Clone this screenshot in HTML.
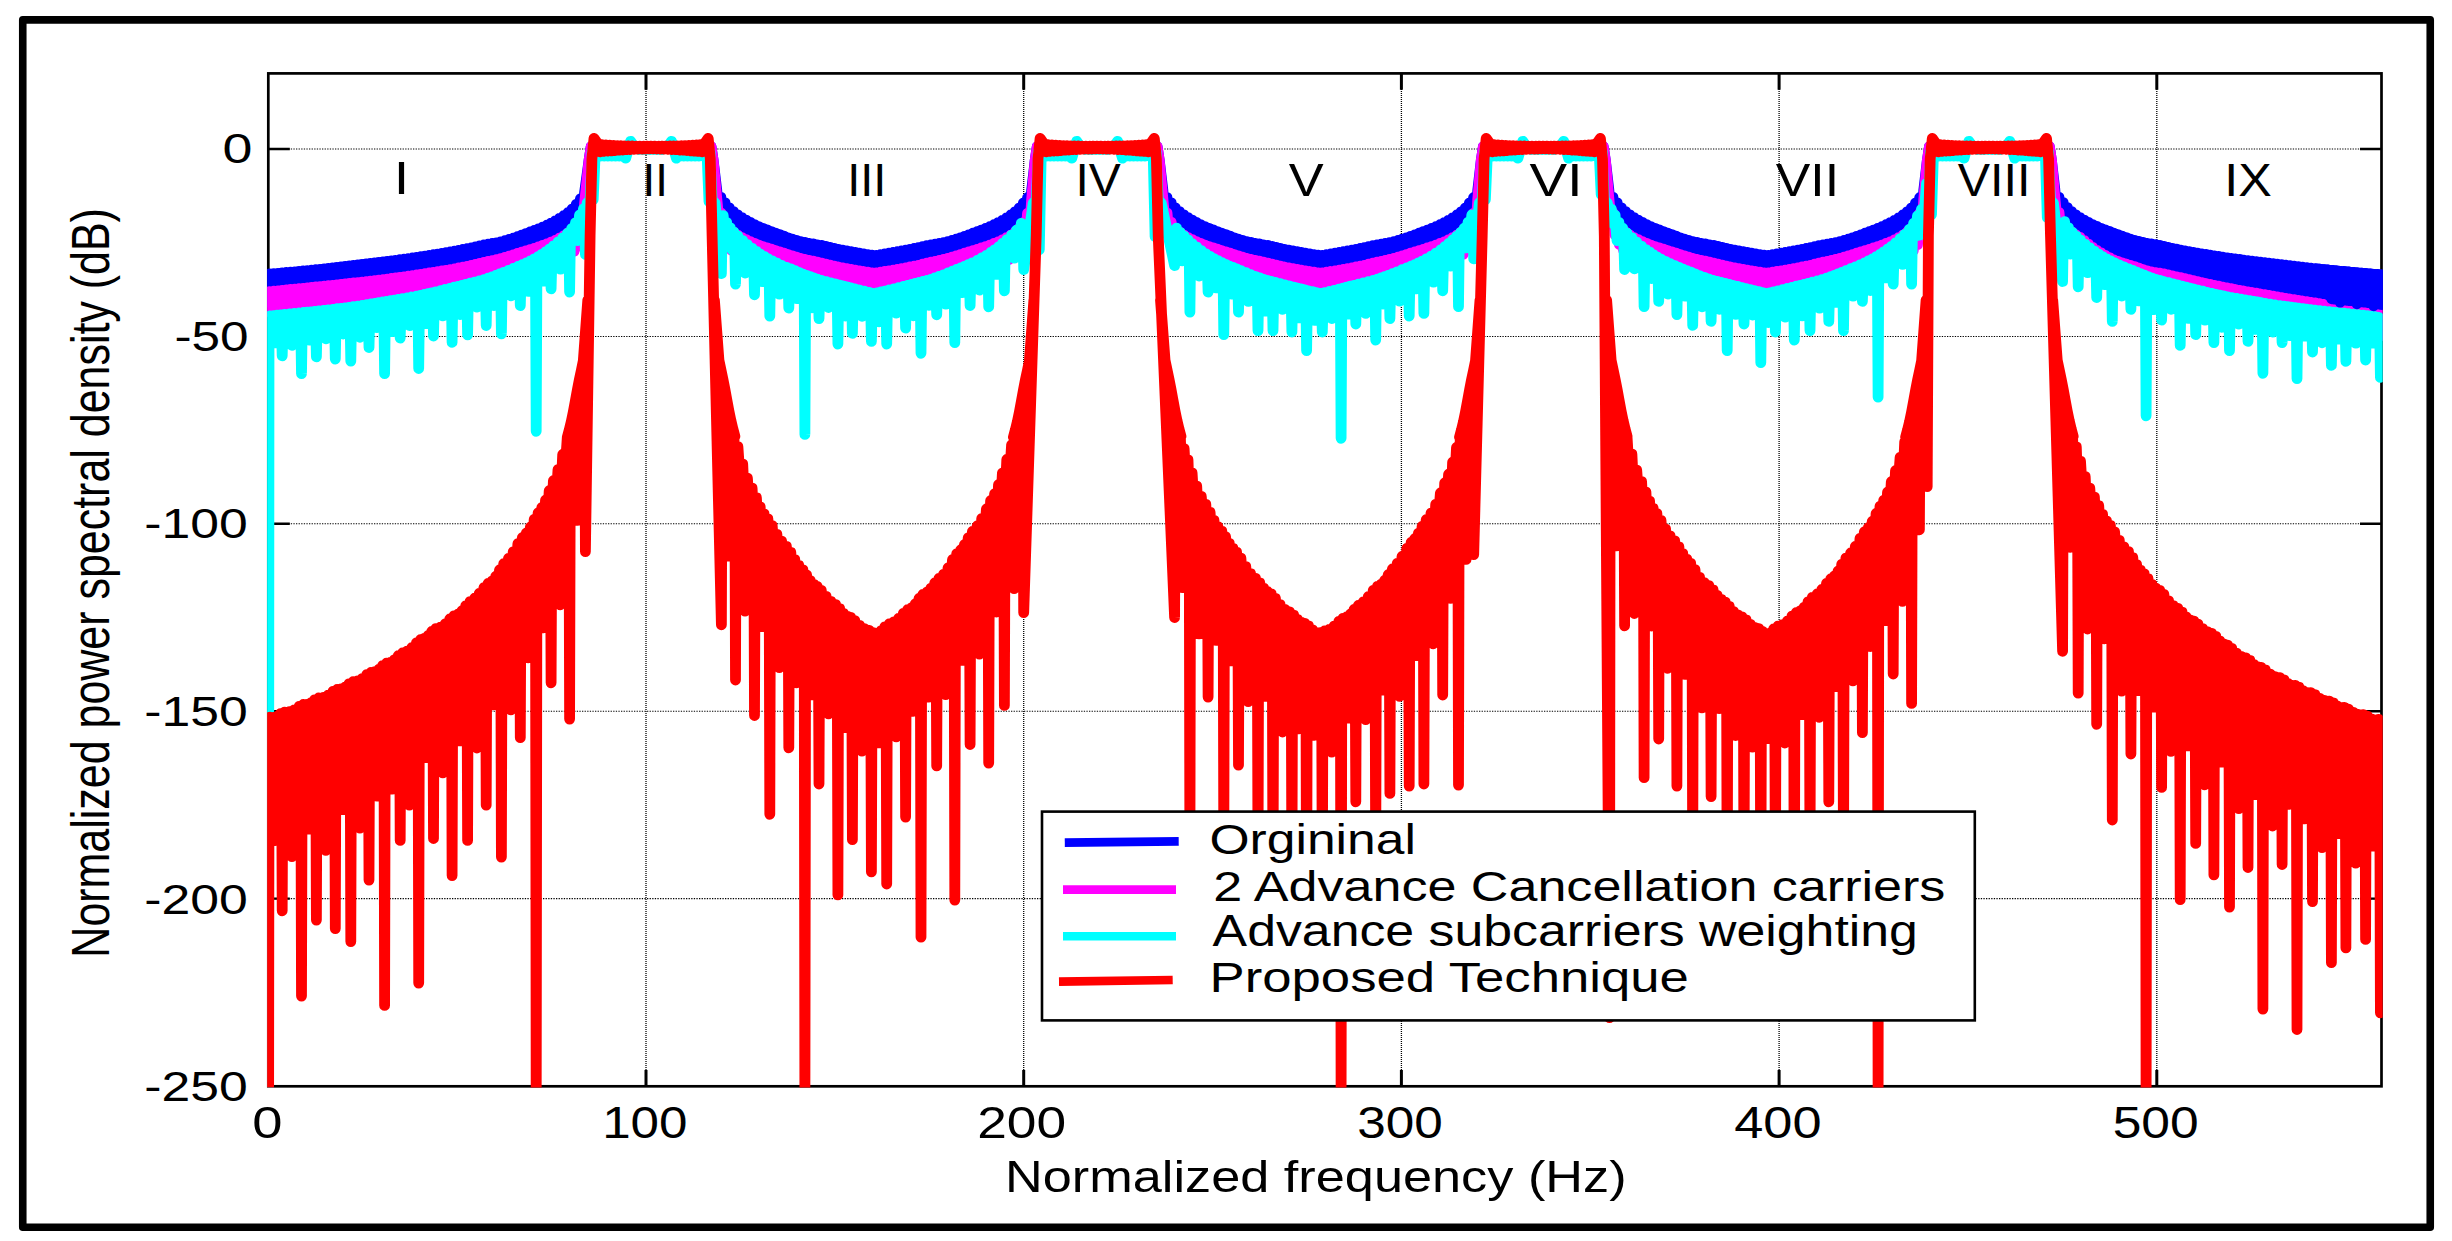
<!DOCTYPE html><html><head><meta charset="utf-8"><title>PSD</title><style>html,body{margin:0;padding:0;background:#fff;overflow:hidden}</style></head><body><svg width="2452" height="1241" viewBox="0 0 2452 1241" style="display:block">
<rect width="2452" height="1241" fill="#fff"/>
<defs><clipPath id="ax"><rect x="267.1" y="72.2" width="2115.6" height="1015.3"/></clipPath></defs>
<rect x="22.75" y="19.9" width="2407.5" height="1207.3" fill="none" stroke="#000" stroke-width="7.6" stroke-linejoin="round"/>
<rect x="268.3" y="73.4" width="2113.2" height="1012.9" fill="none" stroke="#000" stroke-width="2.7"/>
<path d="M646.0 75V1086.3M1023.7 75V1086.3M1401.4 75V1086.3M1779.1 75V1086.3M2156.8 75V1086.3" stroke="#000" stroke-width="1.3" stroke-dasharray="1 1" fill="none"/>
<path d="M270 149.0H2381.5M270 336.4H2381.5M270 523.8H2381.5M270 711.2H2381.5M270 898.6H2381.5" stroke="#000" stroke-width="1.05" stroke-dasharray="1.3 1.3" fill="none"/>
<path d="M646.0 1086.3v-16.4M646.0 73.4v16.4M1023.7 1086.3v-16.4M1023.7 73.4v16.4M1401.4 1086.3v-16.4M1401.4 73.4v16.4M1779.1 1086.3v-16.4M1779.1 73.4v16.4M2156.8 1086.3v-16.4M2156.8 73.4v16.4" stroke="#000" stroke-width="3" fill="none"/>
<path d="M268.3 149.0h21.5M2381.5 149.0h-21.5M268.3 336.4h21.5M2381.5 336.4h-21.5M268.3 523.8h21.5M2381.5 523.8h-21.5M268.3 711.2h21.5M2381.5 711.2h-21.5M268.3 898.6h21.5M2381.5 898.6h-21.5" stroke="#000" stroke-width="2.4" fill="none"/>
<g clip-path="url(#ax)" fill="none" stroke-linejoin="round" stroke-linecap="round" stroke-width="10.8">
<path d="M269.6 274.0L271.7 304.0L273.8 273.7L275.9 303.7L278.0 273.3L280.1 303.3L282.2 272.9L284.3 302.9L286.4 272.5L288.5 302.5L290.6 272.2L292.7 302.2L294.8 271.8L296.9 301.8L299.0 271.4L301.1 301.4L303.2 271.0L305.3 301.0L307.4 270.6L309.5 300.6L311.6 270.2L313.7 300.2L315.8 269.7L317.9 299.7L320.0 269.3L322.1 299.3L324.2 268.8L326.3 298.8L328.4 268.3L330.5 298.3L332.6 267.8L334.7 297.8L336.8 267.3L338.9 297.3L341.0 266.8L343.1 296.8L345.2 266.3L347.3 296.3L349.4 265.8L351.5 295.8L353.6 265.3L355.7 295.3L357.8 264.8L359.9 294.8L362.0 264.3L364.1 294.3L366.2 263.8L368.3 293.8L370.4 263.4L372.5 293.4L374.6 262.9L376.7 292.9L378.8 262.4L380.9 292.4L383.0 261.9L385.1 291.9L387.2 261.4L389.3 291.4L391.4 260.8L393.5 290.8L395.6 260.3L397.7 290.3L399.8 259.7L401.9 289.7L404.0 259.1L406.1 289.1L408.2 258.6L410.3 288.6L412.4 258.0L414.5 288.0L416.6 257.3L418.7 287.3L420.8 256.7L422.9 286.7L425.0 256.1L427.1 286.1L429.2 255.4L431.3 285.4L433.4 254.7L435.5 284.7L437.6 254.1L439.7 284.1L441.8 253.4L443.9 283.4L446.0 252.6L448.1 282.6L450.2 251.9L452.3 281.9L454.4 251.1L456.5 281.1L458.6 250.3L460.7 280.3L462.8 249.5L464.9 279.5L467.0 248.7L469.1 278.7L471.2 247.8L473.3 277.8L475.4 246.8L477.5 276.8L479.6 245.8L481.7 275.8L483.8 245.0L485.9 275.0L488.0 244.2L490.1 274.2L492.2 243.5L494.3 273.5L496.4 242.8L498.5 272.8L500.6 241.9L502.7 271.9L504.8 240.7L506.9 270.7L509.0 239.5L511.1 269.5L513.2 238.2L515.3 268.2L517.4 236.7L519.5 266.7L521.6 235.1L523.7 265.1L525.8 233.6L527.9 263.6L530.0 232.0L532.1 262.0L534.2 230.5L536.3 260.5L538.4 228.9L540.5 258.9L542.6 227.1L544.7 257.1L546.8 225.2L548.9 255.2L551.0 223.1L553.1 253.1L555.2 220.9L557.3 250.9L559.4 218.4L561.5 248.4L563.6 215.7L565.7 245.7L567.8 212.7L569.9 242.7L572.0 209.1L574.1 239.1L576.2 204.4L578.3 234.4L580.4 198.9L582.5 228.9L584.6 192.5L589.1 160.0L591.1 147.0L711.1 147.0L713.1 160.0L716.7 189.6L718.8 219.6L720.9 197.5L723.0 227.5L725.1 202.9L727.2 232.9L729.3 207.9L731.4 237.9L733.5 211.7L735.6 241.7L737.7 214.9L739.8 244.9L741.9 217.7L744.0 247.7L746.1 220.2L748.2 250.2L750.3 222.5L752.4 252.5L754.5 224.6L756.6 254.6L758.7 226.6L760.8 256.6L762.9 228.4L765.0 258.4L767.1 230.0L769.2 260.0L771.3 231.6L773.4 261.6L775.5 233.1L777.6 263.1L779.7 234.7L781.8 264.7L783.9 236.2L786.0 266.2L788.1 237.8L790.2 267.8L792.3 239.2L794.4 269.2L796.5 240.4L798.6 270.4L800.7 241.6L802.8 271.6L804.9 242.5L807.0 272.5L809.1 243.3L811.2 273.3L813.3 244.0L815.4 274.0L817.5 244.8L819.6 274.8L821.7 245.5L823.8 275.5L825.9 246.5L828.0 276.5L830.1 247.5L832.2 277.5L834.3 248.4L836.4 278.4L838.5 249.3L840.6 279.3L842.7 250.1L844.8 280.1L846.9 250.9L849.0 280.9L851.1 251.7L853.2 281.7L855.3 252.4L857.4 282.4L859.5 253.1L861.6 283.1L863.7 253.9L865.8 283.9L867.9 254.6L870.0 284.6L872.1 255.2L874.2 285.2L876.3 255.3L878.4 285.3L880.5 254.6L882.6 284.6L884.7 253.9L886.8 283.9L888.9 253.2L891.0 283.2L893.1 252.5L895.2 282.5L897.3 251.7L899.4 281.7L901.5 250.9L903.6 280.9L905.7 250.1L907.8 280.1L909.9 249.3L912.0 279.3L914.1 248.5L916.2 278.5L918.3 247.6L920.4 277.6L922.5 246.6L924.6 276.6L926.7 245.6L928.8 275.6L930.9 244.8L933.0 274.8L935.1 244.1L937.2 274.1L939.3 243.4L941.4 273.4L943.5 242.6L945.6 272.6L947.7 241.6L949.8 271.6L951.9 240.5L954.0 270.5L956.1 239.2L958.2 269.2L960.3 237.8L962.4 267.8L964.5 236.3L966.6 266.3L968.7 234.8L970.8 264.8L972.9 233.2L975.0 263.2L977.1 231.7L979.2 261.7L981.3 230.1L983.4 260.1L985.5 228.5L987.6 258.5L989.7 226.7L991.8 256.7L993.9 224.7L996.0 254.7L998.1 222.6L1000.2 252.6L1002.3 220.3L1004.4 250.3L1006.5 217.8L1008.6 247.8L1010.7 215.0L1012.8 245.0L1014.9 211.9L1017.0 241.9L1019.1 208.1L1021.2 238.1L1023.3 203.1L1025.4 233.1L1027.5 197.7L1029.5 227.7L1031.7 190.1L1035.2 160.0L1037.2 147.0L1157.2 147.0L1159.2 160.0L1162.8 189.6L1164.8 219.6L1167.0 197.5L1169.0 227.5L1171.2 202.9L1173.2 232.9L1175.3 207.9L1177.4 237.9L1179.5 211.7L1181.6 241.7L1183.8 214.9L1185.8 244.9L1188.0 217.7L1190.0 247.7L1192.2 220.2L1194.2 250.2L1196.3 222.5L1198.4 252.5L1200.5 224.6L1202.6 254.6L1204.8 226.6L1206.8 256.6L1209.0 228.4L1211.0 258.4L1213.2 230.0L1215.2 260.0L1217.3 231.6L1219.4 261.6L1221.5 233.1L1223.6 263.1L1225.8 234.7L1227.8 264.7L1230.0 236.2L1232.0 266.2L1234.2 237.8L1236.2 267.8L1238.3 239.2L1240.4 269.2L1242.5 240.4L1244.6 270.4L1246.8 241.6L1248.8 271.6L1251.0 242.5L1253.0 272.5L1255.2 243.3L1257.2 273.3L1259.3 244.0L1261.4 274.0L1263.5 244.8L1265.6 274.8L1267.8 245.5L1269.8 275.5L1272.0 246.5L1274.0 276.5L1276.2 247.5L1278.2 277.5L1280.3 248.4L1282.4 278.4L1284.5 249.3L1286.6 279.3L1288.8 250.1L1290.8 280.1L1293.0 250.9L1295.0 280.9L1297.2 251.7L1299.2 281.7L1301.3 252.4L1303.4 282.4L1305.5 253.1L1307.6 283.1L1309.8 253.9L1311.8 283.9L1314.0 254.6L1316.0 284.6L1318.2 255.2L1320.2 285.2L1322.3 255.3L1324.4 285.3L1326.5 254.6L1328.6 284.6L1330.8 253.9L1332.8 283.9L1335.0 253.2L1337.0 283.2L1339.2 252.5L1341.2 282.5L1343.3 251.7L1345.4 281.7L1347.5 250.9L1349.6 280.9L1351.8 250.1L1353.8 280.1L1356.0 249.3L1358.0 279.3L1360.2 248.5L1362.2 278.5L1364.3 247.6L1366.4 277.6L1368.5 246.6L1370.6 276.6L1372.8 245.6L1374.8 275.6L1377.0 244.8L1379.0 274.8L1381.2 244.1L1383.2 274.1L1385.3 243.4L1387.4 273.4L1389.5 242.6L1391.6 272.6L1393.8 241.6L1395.8 271.6L1398.0 240.5L1400.0 270.5L1402.2 239.2L1404.2 269.2L1406.3 237.8L1408.4 267.8L1410.5 236.3L1412.6 266.3L1414.8 234.8L1416.8 264.8L1419.0 233.2L1421.0 263.2L1423.2 231.7L1425.2 261.7L1427.3 230.1L1429.4 260.1L1431.5 228.5L1433.6 258.5L1435.8 226.7L1437.8 256.7L1440.0 224.7L1442.0 254.7L1444.2 222.6L1446.2 252.6L1448.3 220.3L1450.4 250.3L1452.5 217.8L1454.6 247.8L1456.8 215.0L1458.8 245.0L1461.0 211.9L1463.0 241.9L1465.2 208.1L1467.2 238.1L1469.3 203.1L1471.4 233.1L1473.5 197.7L1475.6 227.7L1477.8 190.1L1481.3 160.0L1483.3 147.0L1603.3 147.0L1605.3 160.0L1608.8 189.6L1610.9 219.6L1613.0 197.5L1615.1 227.5L1617.2 202.9L1619.3 232.9L1621.4 207.9L1623.5 237.9L1625.6 211.7L1627.7 241.7L1629.8 214.9L1631.9 244.9L1634.0 217.7L1636.1 247.7L1638.2 220.2L1640.3 250.2L1642.4 222.5L1644.5 252.5L1646.6 224.6L1648.7 254.6L1650.8 226.6L1652.9 256.6L1655.0 228.4L1657.1 258.4L1659.2 230.0L1661.3 260.0L1663.4 231.6L1665.5 261.6L1667.6 233.1L1669.7 263.1L1671.8 234.7L1673.9 264.7L1676.0 236.2L1678.1 266.2L1680.2 237.8L1682.3 267.8L1684.4 239.2L1686.5 269.2L1688.6 240.4L1690.7 270.4L1692.8 241.6L1694.9 271.6L1697.0 242.5L1699.1 272.5L1701.2 243.3L1703.3 273.3L1705.4 244.0L1707.5 274.0L1709.6 244.8L1711.7 274.8L1713.8 245.5L1715.9 275.5L1718.0 246.5L1720.1 276.5L1722.2 247.5L1724.3 277.5L1726.4 248.4L1728.5 278.4L1730.6 249.3L1732.7 279.3L1734.8 250.1L1736.9 280.1L1739.0 250.9L1741.1 280.9L1743.2 251.7L1745.3 281.7L1747.4 252.4L1749.5 282.4L1751.6 253.1L1753.7 283.1L1755.8 253.9L1757.9 283.9L1760.0 254.6L1762.1 284.6L1764.2 255.2L1766.3 285.2L1768.4 255.3L1770.5 285.3L1772.6 254.6L1774.7 284.6L1776.8 253.9L1778.9 283.9L1781.0 253.2L1783.1 283.2L1785.2 252.5L1787.3 282.5L1789.4 251.7L1791.5 281.7L1793.6 250.9L1795.7 280.9L1797.8 250.1L1799.9 280.1L1802.0 249.3L1804.1 279.3L1806.2 248.5L1808.3 278.5L1810.4 247.6L1812.5 277.6L1814.6 246.6L1816.7 276.6L1818.8 245.6L1820.9 275.6L1823.0 244.8L1825.1 274.8L1827.2 244.1L1829.3 274.1L1831.4 243.4L1833.5 273.4L1835.6 242.6L1837.7 272.6L1839.8 241.6L1841.9 271.6L1844.0 240.5L1846.1 270.5L1848.2 239.2L1850.3 269.2L1852.4 237.8L1854.5 267.8L1856.6 236.3L1858.7 266.3L1860.8 234.8L1862.9 264.8L1865.0 233.2L1867.1 263.2L1869.2 231.7L1871.3 261.7L1873.4 230.1L1875.5 260.1L1877.6 228.5L1879.7 258.5L1881.8 226.7L1883.9 256.7L1886.0 224.7L1888.1 254.7L1890.2 222.6L1892.3 252.6L1894.4 220.3L1896.5 250.3L1898.6 217.8L1900.7 247.8L1902.8 215.0L1904.9 245.0L1907.0 211.9L1909.1 241.9L1911.2 208.1L1913.3 238.1L1915.4 203.1L1917.5 233.1L1919.6 197.7L1921.7 227.7L1923.8 190.1L1927.4 160.0L1929.4 147.0L2049.4 147.0L2051.4 160.0L2054.8 189.2L2056.9 219.2L2059.0 197.3L2061.1 227.3L2063.2 202.7L2065.3 232.7L2067.4 207.7L2069.5 237.7L2071.6 211.6L2073.7 241.6L2075.8 214.8L2077.9 244.8L2080.0 217.6L2082.1 247.6L2084.2 220.1L2086.3 250.1L2088.4 222.4L2090.5 252.4L2092.6 224.6L2094.7 254.6L2096.8 226.5L2098.9 256.5L2101.0 228.3L2103.1 258.3L2105.2 230.0L2107.3 260.0L2109.4 231.5L2111.5 261.5L2113.6 233.1L2115.7 263.1L2117.8 234.6L2119.9 264.6L2122.0 236.2L2124.1 266.2L2126.2 237.7L2128.3 267.7L2130.4 239.1L2132.5 269.1L2134.6 240.4L2136.7 270.4L2138.8 241.5L2140.9 271.5L2143.0 242.5L2145.1 272.5L2147.2 243.3L2149.3 273.3L2151.4 244.0L2153.5 274.0L2155.6 244.7L2157.7 274.7L2159.8 245.5L2161.9 275.5L2164.0 246.5L2166.1 276.5L2168.2 247.5L2170.3 277.5L2172.4 248.4L2174.5 278.4L2176.6 249.2L2178.7 279.2L2180.8 250.1L2182.9 280.1L2185.0 250.9L2187.1 280.9L2189.2 251.6L2191.3 281.6L2193.4 252.4L2195.5 282.4L2197.6 253.1L2199.7 283.1L2201.8 253.8L2203.9 283.8L2206.0 254.5L2208.1 284.5L2210.2 255.2L2212.3 285.2L2214.4 255.9L2216.5 285.9L2218.6 256.5L2220.7 286.5L2222.8 257.1L2224.9 287.1L2227.0 257.8L2229.1 287.8L2231.2 258.4L2233.3 288.4L2235.4 258.9L2237.5 288.9L2239.6 259.5L2241.7 289.5L2243.8 260.1L2245.9 290.1L2248.0 260.6L2250.1 290.6L2252.2 261.2L2254.3 291.2L2256.4 261.7L2258.5 291.7L2260.6 262.2L2262.7 292.2L2264.8 262.7L2266.9 292.7L2269.0 263.2L2271.1 293.2L2273.2 263.7L2275.3 293.7L2277.4 264.1L2279.5 294.1L2281.6 264.6L2283.7 294.6L2285.8 265.1L2287.9 295.1L2290.0 265.6L2292.1 295.6L2294.2 266.1L2296.3 296.1L2298.4 266.7L2300.5 296.7L2302.6 267.2L2304.7 297.2L2306.8 267.7L2308.9 297.7L2311.0 268.2L2313.1 298.2L2315.2 268.7L2317.3 298.7L2319.4 269.2L2321.5 299.2L2323.6 269.6L2325.7 299.6L2327.8 270.0L2329.9 300.0L2332.0 270.5L2334.1 300.5L2336.2 270.9L2338.3 300.9L2340.4 271.3L2342.5 301.3L2344.6 271.7L2346.7 301.7L2348.8 272.0L2350.9 302.0L2353.0 272.4L2355.1 302.4L2357.2 272.8L2359.3 302.8L2361.4 273.2L2363.5 303.2L2365.6 273.5L2367.7 303.5L2369.8 273.9L2371.9 303.9L2374.0 274.3L2376.1 304.3L2378.2 274.6L2380.3 304.6L2382.4 275.0" stroke="#0000ff"/>
<path d="M269.6 291.6L271.7 313.6L273.8 291.2L275.9 313.2L278.0 290.8L280.1 312.8L282.2 290.3L284.3 312.3L286.4 289.9L288.5 311.9L290.6 289.5L292.7 311.5L294.8 289.1L296.9 311.1L299.0 288.7L301.1 310.7L303.2 288.3L305.3 310.3L307.4 287.8L309.5 309.8L311.6 287.4L313.7 309.4L315.8 287.0L317.9 309.0L320.0 286.6L322.1 308.6L324.2 286.2L326.3 308.2L328.4 285.7L330.5 307.7L332.6 285.3L334.7 307.3L336.8 284.8L338.9 306.8L341.0 284.4L343.1 306.4L345.2 284.0L347.3 306.0L349.4 283.5L351.5 305.5L353.6 283.0L355.7 305.0L357.8 282.6L359.9 304.6L362.0 282.1L364.1 304.1L366.2 281.6L368.3 303.6L370.4 281.1L372.5 303.1L374.6 280.6L376.7 302.6L378.8 280.1L380.9 302.1L383.0 279.6L385.1 301.6L387.2 279.1L389.3 301.1L391.4 278.5L393.5 300.5L395.6 277.9L397.7 299.9L399.8 277.4L401.9 299.4L404.0 276.8L406.1 298.8L408.2 276.2L410.3 298.2L412.4 275.6L414.5 297.6L416.6 275.0L418.7 297.0L420.8 274.3L422.9 296.3L425.0 273.7L427.1 295.7L429.2 273.0L431.3 295.0L433.4 272.3L435.5 294.3L437.6 271.7L439.7 293.7L441.8 271.0L443.9 293.0L446.0 270.3L448.1 292.3L450.2 269.6L452.3 291.6L454.4 268.8L456.5 290.8L458.6 268.0L460.7 290.0L462.8 267.2L464.9 289.2L467.0 266.4L469.1 288.4L471.2 265.5L473.3 287.5L475.4 264.5L477.5 286.5L479.6 263.4L481.7 285.4L483.8 262.4L485.9 284.4L488.0 261.5L490.1 283.5L492.2 260.6L494.3 282.6L496.4 259.6L498.5 281.6L500.6 258.6L502.7 280.6L504.8 257.4L506.9 279.4L509.0 256.2L511.1 278.2L513.2 254.9L515.3 276.9L517.4 253.5L519.5 275.5L521.6 252.2L523.7 274.2L525.8 250.9L527.9 272.9L530.0 249.6L532.1 271.6L534.2 248.3L536.3 270.3L538.4 247.0L540.5 269.0L542.6 245.5L544.7 267.5L546.8 243.9L548.9 265.9L551.0 242.2L553.1 264.2L555.2 240.3L557.3 262.3L559.4 238.2L561.5 260.2L563.6 235.8L565.7 257.8L567.8 232.9L569.9 254.9L572.0 229.3L574.1 251.3L576.2 224.3L578.3 246.3L580.4 216.0L582.5 238.0L584.6 203.3L589.1 160.0L591.1 147.0L711.1 147.0L713.1 160.0L716.7 198.0L718.8 220.0L720.9 212.9L723.0 234.9L725.1 222.3L727.2 244.3L729.3 228.1L731.4 250.1L733.5 232.0L735.6 254.0L737.7 235.0L739.8 257.0L741.9 237.5L744.0 259.5L746.1 239.7L748.2 261.7L750.3 241.7L752.4 263.7L754.5 243.4L756.6 265.4L758.7 245.0L760.8 267.0L762.9 246.6L765.0 268.6L767.1 247.9L769.2 269.9L771.3 249.2L773.4 271.2L775.5 250.5L777.6 272.5L779.7 251.8L781.8 273.8L783.9 253.2L786.0 275.2L788.1 254.5L790.2 276.5L792.3 255.8L794.4 277.8L796.5 257.1L798.6 279.1L800.7 258.3L802.8 280.3L804.9 259.4L807.0 281.4L809.1 260.3L811.2 282.3L813.3 261.2L815.4 283.2L817.5 262.1L819.6 284.1L821.7 263.1L823.8 285.1L825.9 264.2L828.0 286.2L830.1 265.2L832.2 287.2L834.3 266.1L836.4 288.1L838.5 267.0L840.6 289.0L842.7 267.8L844.8 289.8L846.9 268.6L849.0 290.6L851.1 269.3L853.2 291.3L855.3 270.1L857.4 292.1L859.5 270.8L861.6 292.8L863.7 271.5L865.8 293.5L867.9 272.2L870.0 294.2L872.1 272.8L874.2 294.8L876.3 272.9L878.4 294.9L880.5 272.2L882.6 294.2L884.7 271.5L886.8 293.5L888.9 270.8L891.0 292.8L893.1 270.1L895.2 292.1L897.3 269.4L899.4 291.4L901.5 268.6L903.6 290.6L905.7 267.8L907.8 289.8L909.9 267.0L912.0 289.0L914.1 266.2L916.2 288.2L918.3 265.3L920.4 287.3L922.5 264.2L924.6 286.2L926.7 263.1L928.8 285.1L930.9 262.2L933.0 284.2L935.1 261.3L937.2 283.3L939.3 260.4L941.4 282.4L943.5 259.4L945.6 281.4L947.7 258.3L949.8 280.3L951.9 257.1L954.0 279.1L956.1 255.9L958.2 277.9L960.3 254.6L962.4 276.6L964.5 253.2L966.6 275.2L968.7 251.9L970.8 273.9L972.9 250.6L975.0 272.6L977.1 249.3L979.2 271.3L981.3 248.0L983.4 270.0L985.5 246.6L987.6 268.6L989.7 245.1L991.8 267.1L993.9 243.5L996.0 265.5L998.1 241.8L1000.2 263.8L1002.3 239.8L1004.4 261.8L1006.5 237.6L1008.6 259.6L1010.7 235.1L1012.8 257.1L1014.9 232.2L1017.0 254.2L1019.1 228.3L1021.2 250.3L1023.3 222.6L1025.4 244.6L1027.5 213.4L1029.5 235.4L1031.7 198.9L1035.2 160.0L1037.2 147.0L1157.2 147.0L1159.2 160.0L1162.8 198.0L1164.8 220.0L1167.0 212.9L1169.0 234.9L1171.2 222.3L1173.2 244.3L1175.3 228.1L1177.4 250.1L1179.5 232.0L1181.6 254.0L1183.8 235.0L1185.8 257.0L1188.0 237.5L1190.0 259.5L1192.2 239.7L1194.2 261.7L1196.3 241.7L1198.4 263.7L1200.5 243.4L1202.6 265.4L1204.8 245.0L1206.8 267.0L1209.0 246.6L1211.0 268.6L1213.2 247.9L1215.2 269.9L1217.3 249.2L1219.4 271.2L1221.5 250.5L1223.6 272.5L1225.8 251.8L1227.8 273.8L1230.0 253.2L1232.0 275.2L1234.2 254.5L1236.2 276.5L1238.3 255.8L1240.4 277.8L1242.5 257.1L1244.6 279.1L1246.8 258.3L1248.8 280.3L1251.0 259.4L1253.0 281.4L1255.2 260.3L1257.2 282.3L1259.3 261.2L1261.4 283.2L1263.5 262.1L1265.6 284.1L1267.8 263.1L1269.8 285.1L1272.0 264.2L1274.0 286.2L1276.2 265.2L1278.2 287.2L1280.3 266.1L1282.4 288.1L1284.5 267.0L1286.6 289.0L1288.8 267.8L1290.8 289.8L1293.0 268.6L1295.0 290.6L1297.2 269.3L1299.2 291.3L1301.3 270.1L1303.4 292.1L1305.5 270.8L1307.6 292.8L1309.8 271.5L1311.8 293.5L1314.0 272.2L1316.0 294.2L1318.2 272.8L1320.2 294.8L1322.3 272.9L1324.4 294.9L1326.5 272.2L1328.6 294.2L1330.8 271.5L1332.8 293.5L1335.0 270.8L1337.0 292.8L1339.2 270.1L1341.2 292.1L1343.3 269.4L1345.4 291.4L1347.5 268.6L1349.6 290.6L1351.8 267.8L1353.8 289.8L1356.0 267.0L1358.0 289.0L1360.2 266.2L1362.2 288.2L1364.3 265.3L1366.4 287.3L1368.5 264.2L1370.6 286.2L1372.8 263.1L1374.8 285.1L1377.0 262.2L1379.0 284.2L1381.2 261.3L1383.2 283.3L1385.3 260.4L1387.4 282.4L1389.5 259.4L1391.6 281.4L1393.8 258.3L1395.8 280.3L1398.0 257.1L1400.0 279.1L1402.2 255.9L1404.2 277.9L1406.3 254.6L1408.4 276.6L1410.5 253.2L1412.6 275.2L1414.8 251.9L1416.8 273.9L1419.0 250.6L1421.0 272.6L1423.2 249.3L1425.2 271.3L1427.3 248.0L1429.4 270.0L1431.5 246.6L1433.6 268.6L1435.8 245.1L1437.8 267.1L1440.0 243.5L1442.0 265.5L1444.2 241.8L1446.2 263.8L1448.3 239.8L1450.4 261.8L1452.5 237.6L1454.6 259.6L1456.8 235.1L1458.8 257.1L1461.0 232.2L1463.0 254.2L1465.2 228.3L1467.2 250.3L1469.3 222.6L1471.4 244.6L1473.5 213.4L1475.6 235.4L1477.8 198.9L1481.3 160.0L1483.3 147.0L1603.3 147.0L1605.3 160.0L1608.8 198.0L1610.9 220.0L1613.0 212.9L1615.1 234.9L1617.2 222.3L1619.3 244.3L1621.4 228.1L1623.5 250.1L1625.6 232.0L1627.7 254.0L1629.8 235.0L1631.9 257.0L1634.0 237.5L1636.1 259.5L1638.2 239.7L1640.3 261.7L1642.4 241.7L1644.5 263.7L1646.6 243.4L1648.7 265.4L1650.8 245.0L1652.9 267.0L1655.0 246.6L1657.1 268.6L1659.2 247.9L1661.3 269.9L1663.4 249.2L1665.5 271.2L1667.6 250.5L1669.7 272.5L1671.8 251.8L1673.9 273.8L1676.0 253.2L1678.1 275.2L1680.2 254.5L1682.3 276.5L1684.4 255.8L1686.5 277.8L1688.6 257.1L1690.7 279.1L1692.8 258.3L1694.9 280.3L1697.0 259.4L1699.1 281.4L1701.2 260.3L1703.3 282.3L1705.4 261.2L1707.5 283.2L1709.6 262.1L1711.7 284.1L1713.8 263.1L1715.9 285.1L1718.0 264.2L1720.1 286.2L1722.2 265.2L1724.3 287.2L1726.4 266.1L1728.5 288.1L1730.6 267.0L1732.7 289.0L1734.8 267.8L1736.9 289.8L1739.0 268.6L1741.1 290.6L1743.2 269.3L1745.3 291.3L1747.4 270.1L1749.5 292.1L1751.6 270.8L1753.7 292.8L1755.8 271.5L1757.9 293.5L1760.0 272.2L1762.1 294.2L1764.2 272.8L1766.3 294.8L1768.4 272.9L1770.5 294.9L1772.6 272.2L1774.7 294.2L1776.8 271.5L1778.9 293.5L1781.0 270.8L1783.1 292.8L1785.2 270.1L1787.3 292.1L1789.4 269.4L1791.5 291.4L1793.6 268.6L1795.7 290.6L1797.8 267.8L1799.9 289.8L1802.0 267.0L1804.1 289.0L1806.2 266.2L1808.3 288.2L1810.4 265.3L1812.5 287.3L1814.6 264.2L1816.7 286.2L1818.8 263.1L1820.9 285.1L1823.0 262.2L1825.1 284.2L1827.2 261.3L1829.3 283.3L1831.4 260.4L1833.5 282.4L1835.6 259.4L1837.7 281.4L1839.8 258.3L1841.9 280.3L1844.0 257.1L1846.1 279.1L1848.2 255.9L1850.3 277.9L1852.4 254.6L1854.5 276.6L1856.6 253.2L1858.7 275.2L1860.8 251.9L1862.9 273.9L1865.0 250.6L1867.1 272.6L1869.2 249.3L1871.3 271.3L1873.4 248.0L1875.5 270.0L1877.6 246.6L1879.7 268.6L1881.8 245.1L1883.9 267.1L1886.0 243.5L1888.1 265.5L1890.2 241.8L1892.3 263.8L1894.4 239.8L1896.5 261.8L1898.6 237.6L1900.7 259.6L1902.8 235.1L1904.9 257.1L1907.0 232.2L1909.1 254.2L1911.2 228.3L1913.3 250.3L1915.4 222.6L1917.5 244.6L1919.6 213.4L1921.7 235.4L1923.8 198.9L1927.4 160.0L1929.4 147.0L2049.4 147.0L2051.4 160.0L2054.8 197.2L2056.9 219.2L2059.0 212.5L2061.1 234.5L2063.2 222.0L2065.3 244.0L2067.4 227.9L2069.5 249.9L2071.6 231.9L2073.7 253.9L2075.8 234.9L2077.9 256.9L2080.0 237.4L2082.1 259.4L2084.2 240.7L2086.3 262.7L2088.4 244.2L2090.5 266.2L2092.6 247.4L2094.7 269.4L2096.8 250.3L2098.9 272.3L2101.0 252.9L2103.1 274.9L2105.2 255.4L2107.3 277.4L2109.4 257.7L2111.5 279.7L2113.6 259.8L2115.7 281.8L2117.8 261.4L2119.9 283.4L2122.0 262.8L2124.1 284.8L2126.2 264.0L2128.3 286.0L2130.4 265.3L2132.5 287.3L2134.6 266.7L2136.7 288.7L2138.8 268.1L2140.9 290.1L2143.0 269.5L2145.1 291.5L2147.2 270.8L2149.3 292.8L2151.4 271.9L2153.5 293.9L2155.6 272.6L2157.7 294.6L2159.8 273.2L2161.9 295.2L2164.0 273.9L2166.1 295.9L2168.2 274.8L2170.3 296.8L2172.4 275.8L2174.5 297.8L2176.6 276.8L2178.7 298.8L2180.8 277.7L2182.9 299.7L2185.0 278.7L2187.1 300.7L2189.2 279.7L2191.3 301.7L2193.4 280.7L2195.5 302.7L2197.6 281.6L2199.7 303.6L2201.8 282.6L2203.9 304.6L2206.0 283.5L2208.1 305.5L2210.2 284.4L2212.3 306.4L2214.4 285.4L2216.5 307.4L2218.6 286.2L2220.7 308.2L2222.8 287.1L2224.9 309.1L2227.0 287.9L2229.1 309.9L2231.2 288.7L2233.3 310.7L2235.4 289.5L2237.5 311.5L2239.6 290.3L2241.7 312.3L2243.8 291.0L2245.9 313.0L2248.0 291.8L2250.1 313.8L2252.2 292.5L2254.3 314.5L2256.4 293.2L2258.5 315.2L2260.6 294.0L2262.7 316.0L2264.8 294.7L2266.9 316.7L2269.0 295.4L2271.1 317.4L2273.2 296.2L2275.3 318.2L2277.4 296.8L2279.5 318.8L2281.6 297.6L2283.7 319.6L2285.8 298.3L2287.9 320.3L2290.0 299.0L2292.1 321.0L2294.2 299.7L2296.3 321.7L2298.4 300.4L2300.5 322.4L2302.6 301.0L2304.7 323.0L2306.8 301.7L2308.9 323.7L2311.0 302.3L2313.1 324.3L2315.2 302.9L2317.3 324.9L2319.4 303.6L2321.5 325.6L2323.6 304.3L2325.7 326.3L2327.8 305.0L2329.9 327.0L2332.0 305.7L2334.1 327.7L2336.2 306.4L2338.3 328.4L2340.4 307.1L2342.5 329.1L2344.6 307.8L2346.7 329.8L2348.8 308.5L2350.9 330.5L2353.0 309.2L2355.1 331.2L2357.2 309.9L2359.3 331.9L2361.4 310.6L2363.5 332.6L2365.6 311.3L2367.7 333.3L2369.8 312.1L2371.9 334.1L2374.0 313.0L2376.1 335.0L2378.2 314.0L2380.3 336.0L2382.4 314.9" stroke="#ff00ff"/>
<path d="M268.3 1400.0L269.0 331.2L270.0 316.0L271.8 335.7L273.5 315.6L274.6 330.5L275.3 342.9L276.0 330.3L277.0 315.2L278.8 328.7L280.5 314.8L281.5 329.7L282.2 355.9L282.9 329.5L284.7 314.4L287.1 327.4L289.5 313.9L291.2 328.7L291.9 345.4L292.6 328.6L294.3 313.4L296.7 330.1L299.1 313.0L300.8 327.8L301.5 373.7L302.2 327.7L303.4 312.5L305.2 324.7L307.1 312.2L308.2 327.1L308.9 340.1L309.6 326.9L310.8 311.8L312.7 323.9L314.5 311.4L315.7 326.3L316.4 356.9L317.1 326.1L318.7 310.9L321.1 326.8L323.5 310.4L325.1 325.2L325.8 338.8L326.5 325.0L328.2 309.8L330.5 325.3L332.9 309.3L334.6 324.1L335.3 359.0L336.0 323.9L337.2 308.7L339.2 327.8L341.1 308.3L342.4 323.1L343.1 334.0L343.8 322.9L345.0 307.8L346.9 324.5L348.9 307.3L350.1 322.1L350.8 361.1L351.5 321.9L353.1 306.7L355.4 322.5L357.7 306.1L359.2 320.9L359.9 337.3L360.6 320.7L362.2 305.4L364.5 321.1L366.7 304.7L368.3 319.5L369.0 347.5L369.7 319.2L371.0 304.0L372.9 317.7L374.8 303.4L376.1 318.2L376.8 327.7L377.5 317.9L378.7 302.7L380.7 314.5L382.6 302.0L383.9 316.8L384.6 373.7L385.3 316.6L386.5 301.4L388.5 314.6L390.4 300.7L391.7 315.5L392.4 331.7L393.1 315.3L394.3 300.1L396.3 317.3L398.2 299.4L399.5 314.2L400.2 338.1L400.9 314.0L402.5 298.7L404.8 311.9L407.1 297.9L408.7 312.6L409.4 325.6L410.1 312.3L411.7 297.0L414.1 311.6L416.4 296.2L418.0 310.8L418.7 368.5L419.4 310.6L420.5 295.3L422.4 307.0L424.3 294.5L425.4 309.3L426.1 323.7L426.8 308.9L428.0 293.7L429.8 311.9L431.7 292.8L432.8 307.5L433.5 336.0L434.2 307.2L435.8 291.8L438.2 304.4L440.5 290.6L442.1 305.2L442.8 315.9L443.5 304.9L445.1 289.5L447.4 303.0L449.7 288.3L451.4 302.9L452.1 342.3L452.8 302.6L454.0 287.2L456.0 305.8L457.9 286.3L459.2 300.9L459.9 314.5L460.6 300.6L461.8 285.3L463.7 300.9L465.7 284.3L466.9 299.0L467.6 334.9L468.3 298.6L470.0 283.2L472.3 301.4L474.6 282.1L476.2 296.7L476.9 307.2L477.6 296.3L479.2 280.9L481.5 297.4L483.9 279.6L485.5 294.1L486.2 325.5L486.9 293.6L488.1 278.2L490.0 295.5L491.9 276.9L493.1 291.4L493.8 305.5L494.5 290.9L495.7 275.5L497.6 287.5L499.5 274.0L500.7 288.5L501.4 333.9L502.1 288.0L503.7 272.3L506.1 287.6L508.5 270.3L510.1 284.6L510.8 295.8L511.5 284.0L513.2 268.4L515.6 283.5L517.9 266.5L519.6 280.8L520.3 305.6L521.0 280.2L522.3 264.7L524.3 282.8L526.3 262.9L527.6 277.2L528.3 291.4L529.0 276.5L530.3 260.9L532.2 274.7L534.2 258.8L535.5 273.0L536.2 431.3L536.9 272.2L538.1 256.6L539.9 272.2L541.8 254.3L542.9 268.6L543.6 281.1L544.3 267.7L545.5 251.9L547.4 263.1L549.2 249.2L550.4 263.4L551.1 288.9L551.8 262.3L553.4 246.0L555.7 259.1L558.0 242.0L559.6 255.6L560.3 269.2L561.0 254.3L562.7 237.9L565.0 250.3L567.3 233.5L568.9 246.8L569.6 292.0L570.3 245.2L571.6 228.7L573.6 239.3L575.5 222.8L576.8 235.4L577.5 240.6L578.2 232.6L579.5 215.1L581.5 230.1L583.4 208.9L584.7 221.8L585.4 254.3L587.1 203.0L590.1 200.0L592.1 160.0L592.1 152.0L593.2 199.6L595.1 155.2L598.5 154.5L600.4 155.9L602.3 154.5L604.2 155.9L606.1 154.5L607.9 155.9L609.8 154.5L611.7 155.9L613.6 154.5L615.5 155.9L617.4 154.5L619.3 155.9L621.2 154.5L623.1 155.9L625.7 158.2L630.6 141.3L635.1 148.0L637.1 147.8L639.0 149.4L640.9 147.8L642.8 149.4L644.7 147.8L646.5 149.4L648.4 147.8L650.3 149.4L652.2 147.8L654.1 149.4L656.0 147.8L657.9 149.4L659.8 147.8L661.7 149.4L663.5 147.8L667.1 148.0L671.5 141.3L676.4 158.2L678.1 154.5L680.0 155.9L681.9 154.5L683.8 155.9L685.7 154.5L687.5 155.9L689.4 154.5L691.3 155.9L693.2 154.5L695.1 155.9L697.0 154.5L698.9 155.9L700.8 154.5L702.7 155.9L707.1 155.2L709.0 201.6L710.1 152.0L710.1 160.0L712.1 200.0L715.1 203.0L721.4 273.5L722.1 228.6L723.2 215.7L725.0 237.9L726.7 222.5L727.8 239.4L728.5 246.2L729.2 241.6L730.3 228.0L732.0 249.7L733.8 232.1L734.8 248.2L735.5 284.2L736.2 249.6L737.9 236.1L740.3 257.6L742.7 240.5L744.3 257.0L745.0 273.0L745.7 258.2L747.4 244.6L749.8 263.1L752.1 248.4L753.8 264.7L754.5 294.8L755.2 265.7L756.4 251.5L758.3 266.0L760.2 254.1L761.4 269.8L762.1 281.7L762.8 270.7L764.1 256.4L766.0 271.1L767.9 258.6L769.1 274.3L769.8 316.1L770.5 275.0L772.2 260.9L774.5 281.5L776.9 263.2L778.6 279.0L779.3 294.2L780.0 279.6L781.6 265.3L784.0 282.7L786.4 267.3L788.1 282.9L788.8 308.1L789.5 283.5L790.8 269.0L792.8 283.3L794.8 270.7L796.1 286.2L796.8 298.7L797.5 286.8L798.8 272.3L800.8 292.2L802.9 274.0L804.2 289.5L804.9 434.4L805.6 290.0L806.6 275.4L808.4 293.2L810.2 276.7L811.2 292.1L811.9 307.8L812.6 292.6L813.7 278.0L815.5 295.1L817.2 279.2L818.3 294.5L819.0 318.7L819.7 294.9L821.3 280.4L823.7 296.1L826.1 281.6L827.8 297.0L828.5 307.5L829.2 297.4L830.8 282.8L833.2 298.7L835.6 284.0L837.2 299.4L837.9 344.0L838.6 299.8L839.7 285.1L841.6 299.4L843.4 286.0L844.5 301.3L845.2 316.0L845.9 301.6L847.0 286.9L848.8 299.7L850.6 287.8L851.7 303.1L852.4 333.4L853.1 303.4L854.8 288.9L857.2 308.5L859.5 290.0L861.2 305.5L861.9 316.3L862.6 305.8L864.3 291.2L866.6 307.5L869.0 292.4L870.7 307.8L871.4 341.4L872.1 308.1L873.3 293.4L875.2 309.8L877.1 292.9L878.3 307.6L879.0 321.8L879.7 307.3L881.0 292.0L882.9 306.1L884.8 291.1L886.0 305.8L886.7 344.0L887.4 305.4L889.1 290.0L891.4 307.4L893.8 288.8L895.5 303.4L896.2 313.2L896.9 303.1L898.5 287.6L900.9 299.2L903.3 286.4L904.9 301.0L905.6 328.1L906.3 300.7L907.6 285.4L909.5 299.8L911.4 284.4L912.6 299.1L913.3 315.8L914.0 298.7L915.2 283.4L917.1 295.2L919.0 282.5L920.3 297.2L921.0 353.3L921.7 296.8L922.9 281.5L924.9 294.0L926.9 280.5L928.1 295.2L928.8 305.3L929.5 294.7L930.8 279.3L932.7 298.4L934.7 278.0L936.0 292.6L936.7 314.8L937.4 292.1L938.9 276.5L941.2 293.0L943.5 274.8L945.0 289.2L945.7 304.2L946.4 288.7L948.0 273.0L950.3 287.5L952.5 271.1L954.1 285.5L954.8 342.7L955.5 284.9L956.7 269.4L958.6 284.8L960.6 267.9L961.8 282.4L962.5 292.7L963.2 281.8L964.4 266.3L966.3 284.5L968.2 264.7L969.4 279.2L970.1 305.5L970.8 278.6L972.4 262.8L974.8 276.4L977.1 260.5L978.7 274.6L979.4 290.1L980.1 273.9L981.7 258.0L984.0 273.4L986.4 255.3L988.0 269.3L988.7 306.8L989.4 268.4L990.6 252.5L992.6 268.7L994.6 249.8L995.8 263.8L996.5 274.4L997.2 262.8L998.5 246.8L1000.5 260.0L1002.4 243.5L1003.7 257.4L1004.4 290.8L1005.1 256.2L1006.8 239.6L1009.2 253.6L1011.6 235.1L1013.4 248.5L1014.1 258.1L1014.8 247.0L1016.5 230.1L1018.9 245.3L1021.3 223.3L1023.0 235.1L1023.7 269.5L1033.2 203.0L1036.2 200.0L1038.2 160.0L1038.2 152.0L1039.3 249.6L1041.2 155.2L1044.6 154.5L1046.5 155.9L1048.4 154.5L1050.3 155.9L1052.2 154.5L1054.0 155.9L1055.9 154.5L1057.8 155.9L1059.7 154.5L1061.6 155.9L1063.5 154.5L1065.4 155.9L1067.3 154.5L1069.2 155.9L1071.8 158.2L1076.7 141.3L1081.2 148.0L1083.2 147.8L1085.1 149.4L1087.0 147.8L1088.9 149.4L1090.8 147.8L1092.6 149.4L1094.5 147.8L1096.4 149.4L1098.3 147.8L1100.2 149.4L1102.1 147.8L1104.0 149.4L1105.9 147.8L1107.8 149.4L1109.6 147.8L1113.2 148.0L1117.6 141.3L1122.5 158.2L1124.2 154.5L1126.1 155.9L1128.0 154.5L1129.9 155.9L1131.8 154.5L1133.6 155.9L1135.5 154.5L1137.4 155.9L1139.3 154.5L1141.2 155.9L1143.1 154.5L1145.0 155.9L1146.9 154.5L1148.8 155.9L1153.2 155.2L1155.1 236.6L1156.2 152.0L1156.2 160.0L1158.2 200.0L1161.2 203.0L1174.6 265.5L1175.3 241.5L1176.5 228.2L1178.4 245.2L1180.3 232.5L1181.5 248.8L1182.2 260.9L1182.9 250.1L1184.1 236.2L1186.0 257.6L1188.0 239.8L1189.2 255.9L1189.9 312.1L1190.6 257.1L1192.1 243.5L1194.4 262.0L1196.7 247.2L1198.3 263.5L1199.0 276.0L1199.7 264.5L1201.3 250.7L1203.5 267.0L1205.8 253.7L1207.4 269.7L1208.1 292.1L1208.8 270.6L1210.1 256.4L1212.0 271.7L1214.0 258.6L1215.2 274.3L1215.9 287.9L1216.6 275.0L1217.9 260.7L1219.9 281.3L1221.8 262.7L1223.1 278.3L1223.8 334.7L1224.5 278.9L1225.6 264.4L1227.5 280.8L1229.3 266.0L1230.4 281.4L1231.1 294.1L1231.8 282.0L1233.0 267.5L1234.8 288.0L1236.6 268.9L1237.8 284.4L1238.5 312.1L1239.2 284.9L1240.9 270.7L1243.3 287.8L1245.8 272.7L1247.5 288.4L1248.2 301.4L1248.9 289.0L1250.6 274.6L1253.1 291.7L1255.5 276.5L1257.3 292.1L1258.0 330.7L1258.7 292.6L1259.8 278.0L1261.7 297.8L1263.6 279.3L1264.8 294.6L1265.5 311.0L1266.2 295.1L1267.4 280.4L1269.3 298.9L1271.2 281.4L1272.3 296.7L1273.0 330.7L1273.7 297.0L1275.4 282.4L1277.8 299.7L1280.1 283.6L1281.8 299.0L1282.5 309.4L1283.2 299.4L1284.8 284.8L1287.2 300.8L1289.5 286.0L1291.2 301.4L1291.9 332.0L1292.6 301.8L1293.7 287.1L1295.6 306.5L1297.4 288.0L1298.5 303.3L1299.2 317.9L1299.9 303.6L1301.1 288.9L1302.9 304.7L1304.7 289.8L1305.9 305.1L1306.6 350.6L1307.3 305.4L1308.5 290.8L1310.5 310.6L1312.5 291.7L1313.7 307.0L1314.4 320.4L1315.1 307.4L1316.4 292.7L1318.3 305.7L1320.3 293.4L1321.6 308.3L1322.3 332.0L1323.0 308.0L1324.6 292.6L1327.0 307.5L1329.3 291.5L1331.0 306.0L1331.7 318.5L1332.4 305.7L1334.1 290.3L1336.4 305.9L1338.8 289.1L1340.4 303.7L1341.1 438.3L1341.8 303.4L1343.0 288.1L1344.8 307.2L1346.6 287.1L1347.8 301.9L1348.5 314.0L1349.2 301.5L1350.3 286.2L1352.1 299.8L1354.0 285.3L1355.1 300.0L1355.8 324.0L1356.5 299.6L1358.3 284.2L1360.8 302.0L1363.3 282.9L1365.0 297.5L1365.7 313.4L1366.4 297.1L1368.2 281.7L1370.7 298.5L1373.2 280.4L1375.0 294.9L1375.7 340.0L1376.4 294.5L1377.5 279.1L1379.3 296.3L1381.0 277.9L1382.1 292.6L1382.8 304.0L1383.5 292.1L1384.6 276.7L1386.4 293.1L1388.2 275.4L1389.2 290.0L1389.9 318.7L1390.6 289.4L1392.4 273.7L1394.8 292.5L1397.2 271.8L1398.9 286.0L1399.6 301.2L1400.3 285.5L1402.0 269.7L1404.4 283.4L1406.8 267.8L1408.5 282.1L1409.2 316.0L1409.9 281.6L1411.1 266.1L1412.9 280.5L1414.7 264.6L1415.9 279.1L1416.6 288.9L1417.3 278.4L1418.4 262.9L1420.2 275.6L1422.1 261.1L1423.2 275.5L1423.9 313.4L1424.6 274.8L1426.2 258.9L1428.6 270.0L1431.0 256.2L1432.6 270.2L1433.3 282.2L1434.0 269.3L1435.7 253.2L1438.0 265.4L1440.4 250.0L1442.0 263.8L1442.7 290.8L1443.4 262.7L1444.7 246.7L1446.7 264.4L1448.6 243.4L1449.9 257.3L1450.6 266.1L1451.3 256.1L1452.6 239.9L1454.5 256.9L1456.5 236.3L1457.8 250.1L1458.5 306.7L1459.2 248.8L1460.4 232.6L1462.3 243.4L1464.2 228.2L1465.4 241.6L1466.1 247.9L1466.8 239.4L1468.0 222.3L1469.9 235.5L1471.8 214.9L1473.0 227.7L1473.7 258.9L1479.3 203.0L1482.3 200.0L1484.3 160.0L1484.3 152.0L1485.4 199.6L1487.3 155.2L1490.7 154.5L1492.6 155.9L1494.5 154.5L1496.4 155.9L1498.3 154.5L1500.1 155.9L1502.0 154.5L1503.9 155.9L1505.8 154.5L1507.7 155.9L1509.6 154.5L1511.5 155.9L1513.4 154.5L1515.3 155.9L1517.9 158.2L1522.8 141.3L1527.3 148.0L1529.3 147.8L1531.2 149.4L1533.1 147.8L1535.0 149.4L1536.9 147.8L1538.7 149.4L1540.6 147.8L1542.5 149.4L1544.4 147.8L1546.3 149.4L1548.2 147.8L1550.1 149.4L1552.0 147.8L1553.9 149.4L1555.7 147.8L1559.3 148.0L1563.7 141.3L1568.6 158.2L1570.3 154.5L1572.2 155.9L1574.1 154.5L1576.0 155.9L1577.9 154.5L1579.7 155.9L1581.6 154.5L1583.5 155.9L1585.4 154.5L1587.3 155.9L1589.2 154.5L1591.1 155.9L1593.0 154.5L1594.9 155.9L1599.3 155.2L1601.2 194.6L1602.3 152.0L1602.3 160.0L1604.3 200.0L1607.3 203.0L1609.5 214.6L1610.2 214.6L1611.4 209.2L1613.3 224.0L1615.1 215.2L1616.3 232.5L1617.0 240.6L1617.7 235.2L1618.9 222.5L1620.8 237.8L1622.7 228.3L1623.9 244.7L1624.6 269.5L1625.3 246.3L1627.0 233.2L1629.4 249.5L1631.9 237.8L1633.6 254.4L1634.3 268.8L1635.0 255.6L1636.7 242.2L1639.2 258.3L1641.6 246.3L1643.4 262.7L1644.1 306.7L1644.8 263.8L1645.9 249.6L1647.7 264.4L1649.6 252.2L1650.7 267.9L1651.4 278.5L1652.1 268.9L1653.2 254.6L1655.1 272.2L1656.9 256.8L1658.0 272.4L1658.7 301.4L1659.4 273.2L1661.0 259.1L1663.3 272.6L1665.6 261.5L1667.1 277.3L1667.8 294.1L1668.5 277.9L1670.1 263.7L1672.4 281.4L1674.7 265.7L1676.2 281.3L1676.9 314.7L1677.6 281.9L1678.9 267.4L1680.9 281.5L1682.8 269.0L1684.1 284.5L1684.8 296.2L1685.5 285.0L1686.8 270.6L1688.7 288.8L1690.7 272.2L1692.0 287.7L1692.7 325.3L1693.4 288.3L1695.0 273.9L1697.3 287.0L1699.6 275.7L1701.2 291.3L1701.9 306.8L1702.6 291.8L1704.2 277.4L1706.5 292.7L1708.8 279.0L1710.4 294.5L1711.1 321.4L1711.8 294.9L1713.1 280.3L1715.1 300.4L1717.1 281.4L1718.5 296.7L1719.2 309.3L1719.9 297.0L1721.2 282.3L1723.2 299.1L1725.2 283.3L1726.5 298.7L1727.2 350.6L1727.9 299.0L1729.3 284.4L1731.4 303.4L1733.5 285.5L1734.9 300.8L1735.6 314.4L1736.3 301.2L1737.7 286.5L1739.8 304.3L1741.9 287.6L1743.3 302.9L1744.0 324.0L1744.7 303.3L1746.1 288.6L1748.2 306.0L1750.3 289.7L1751.7 305.0L1752.4 315.0L1753.1 305.4L1754.5 290.7L1756.6 304.8L1758.7 291.7L1760.1 307.1L1760.8 362.6L1761.5 307.4L1762.6 292.7L1764.4 309.7L1766.3 293.5L1767.4 308.4L1768.1 322.6L1768.8 308.1L1769.9 292.8L1771.8 304.7L1773.6 291.9L1774.7 306.6L1775.4 332.0L1776.1 306.3L1777.8 290.9L1780.1 308.7L1782.5 289.7L1784.1 304.3L1784.8 317.1L1785.5 304.0L1787.2 288.5L1789.6 307.6L1791.9 287.3L1793.6 301.9L1794.3 340.0L1795.0 301.6L1796.2 286.2L1798.2 304.6L1800.2 285.3L1801.4 299.9L1802.1 315.9L1802.8 299.6L1804.1 284.3L1806.1 296.2L1808.0 283.3L1809.3 297.9L1810.0 330.7L1810.7 297.6L1812.3 282.2L1814.7 296.3L1817.1 281.0L1818.7 295.6L1819.4 308.1L1820.1 295.2L1821.8 279.7L1824.1 293.5L1826.5 278.2L1828.1 292.6L1828.8 321.4L1829.5 292.1L1830.7 276.7L1832.5 288.9L1834.3 275.3L1835.5 289.9L1836.2 302.4L1836.9 289.4L1838.0 273.9L1839.8 290.2L1841.7 272.4L1842.8 287.0L1843.5 330.7L1844.2 286.4L1845.9 270.7L1848.2 288.1L1850.6 268.7L1852.2 283.1L1852.9 296.2L1853.6 282.5L1855.3 266.9L1857.7 280.4L1860.0 264.9L1861.7 279.2L1862.4 301.4L1863.1 278.6L1864.3 263.0L1866.3 280.9L1868.3 261.0L1869.5 275.4L1870.2 290.5L1870.9 274.6L1872.2 259.0L1874.2 276.2L1876.1 256.7L1877.4 271.0L1878.1 397.1L1878.8 270.1L1880.0 254.4L1881.8 266.2L1883.7 251.9L1884.9 266.1L1885.6 277.9L1886.3 265.1L1887.5 249.2L1889.4 265.9L1891.3 246.3L1892.5 260.3L1893.2 284.1L1893.9 259.2L1895.5 242.8L1897.8 259.8L1900.1 238.7L1901.7 252.2L1902.4 264.4L1903.1 250.9L1904.7 234.3L1907.0 245.6L1909.3 229.4L1910.9 242.4L1911.6 284.1L1912.3 240.4L1913.6 223.3L1915.5 236.2L1917.5 215.8L1918.7 228.4L1919.4 235.1L1920.1 226.1L1921.4 209.4L1923.3 223.3L1925.3 199.2L1926.5 183.5L1927.2 183.5L1925.4 203.0L1928.4 200.0L1930.4 160.0L1930.4 152.0L1931.5 214.6L1933.4 155.2L1936.8 154.5L1938.7 155.9L1940.6 154.5L1942.5 155.9L1944.4 154.5L1946.2 155.9L1948.1 154.5L1950.0 155.9L1951.9 154.5L1953.8 155.9L1955.7 154.5L1957.6 155.9L1959.5 154.5L1961.4 155.9L1964.0 158.2L1968.9 141.3L1973.4 148.0L1975.4 147.8L1977.3 149.4L1979.2 147.8L1981.1 149.4L1983.0 147.8L1984.8 149.4L1986.7 147.8L1988.6 149.4L1990.5 147.8L1992.4 149.4L1994.3 147.8L1996.2 149.4L1998.1 147.8L2000.0 149.4L2001.8 147.8L2005.4 148.0L2009.8 141.3L2014.7 158.2L2016.4 154.5L2018.3 155.9L2020.2 154.5L2022.1 155.9L2024.0 154.5L2025.8 155.9L2027.7 154.5L2029.6 155.9L2031.5 154.5L2033.4 155.9L2035.3 154.5L2037.2 155.9L2039.1 154.5L2041.0 155.9L2045.4 155.2L2047.3 217.6L2048.4 152.0L2048.4 160.0L2050.4 200.0L2053.4 203.0L2062.6 281.5L2063.3 234.3L2064.6 221.7L2066.5 242.3L2068.5 227.9L2069.7 244.4L2070.4 254.1L2071.1 246.0L2072.4 232.4L2074.3 247.1L2076.3 236.2L2077.5 252.3L2078.2 286.8L2078.9 253.6L2080.5 240.1L2082.8 257.2L2085.2 244.2L2086.8 260.5L2087.5 272.7L2088.2 261.7L2089.8 247.9L2092.1 262.8L2094.4 251.3L2096.0 267.4L2096.7 297.5L2097.4 268.4L2098.7 254.2L2100.6 272.7L2102.6 256.6L2103.8 272.3L2104.5 284.6L2105.2 273.1L2106.5 258.8L2108.4 278.5L2110.4 260.8L2111.6 276.5L2112.3 321.4L2113.0 277.2L2114.6 262.9L2116.9 279.0L2119.3 265.0L2120.9 280.7L2121.6 296.1L2122.3 281.3L2123.9 266.9L2126.2 282.8L2128.5 268.8L2130.2 284.4L2130.9 309.4L2131.6 285.0L2132.8 270.5L2134.7 287.6L2136.6 272.1L2137.8 287.6L2138.5 300.9L2139.2 288.2L2140.4 273.7L2142.3 288.1L2144.2 275.1L2145.4 290.6L2146.1 415.8L2146.8 291.1L2148.0 276.6L2149.9 291.3L2151.9 278.0L2153.1 293.4L2153.8 309.7L2154.5 293.9L2155.8 279.3L2157.7 294.5L2159.7 280.4L2160.9 295.8L2161.6 320.1L2162.3 296.1L2163.9 281.5L2166.3 297.8L2168.6 282.7L2170.2 298.1L2170.9 309.3L2171.6 298.4L2173.2 283.8L2175.5 297.1L2177.8 285.0L2179.5 300.4L2180.2 345.3L2180.9 300.8L2182.1 286.1L2184.1 304.6L2186.0 287.1L2187.3 302.4L2188.0 318.4L2188.7 302.7L2189.9 288.1L2191.8 305.2L2193.8 289.0L2195.0 304.3L2195.7 334.7L2196.4 304.7L2198.0 290.1L2200.3 305.0L2202.6 291.2L2204.1 306.6L2204.8 320.2L2205.5 306.9L2207.1 292.3L2209.4 305.5L2211.6 293.4L2213.2 308.8L2213.9 342.7L2214.6 309.1L2215.9 294.4L2217.8 312.9L2219.7 295.2L2221.0 310.5L2221.7 327.3L2222.4 310.8L2223.6 296.0L2225.6 309.4L2227.5 296.8L2228.8 312.0L2229.5 350.7L2230.2 312.3L2231.8 297.6L2234.1 311.0L2236.4 298.4L2238.1 313.7L2238.8 324.2L2239.5 313.9L2241.1 299.2L2243.4 312.6L2245.7 300.0L2247.3 315.2L2248.0 341.4L2248.7 315.5L2249.9 300.7L2251.7 313.6L2253.6 301.3L2254.7 316.5L2255.4 329.4L2256.1 316.7L2257.3 301.9L2259.1 321.5L2261.0 302.5L2262.2 317.7L2262.9 373.3L2263.6 318.0L2265.3 303.3L2267.7 317.8L2270.1 304.1L2271.8 319.4L2272.5 332.1L2273.2 319.6L2274.9 304.9L2277.3 319.7L2279.7 305.6L2281.4 320.8L2282.1 342.7L2282.8 321.0L2284.0 306.2L2285.8 325.1L2287.7 306.7L2288.8 321.9L2289.5 335.6L2290.2 322.1L2291.4 307.2L2293.3 324.4L2295.1 307.7L2296.3 322.8L2297.0 378.6L2297.7 323.0L2298.9 308.2L2300.9 321.9L2302.8 308.7L2304.0 323.8L2304.7 336.1L2305.4 324.0L2306.7 309.1L2308.6 324.8L2310.6 309.6L2311.8 324.7L2312.5 352.0L2313.2 324.9L2314.9 310.1L2317.3 329.4L2319.6 310.6L2321.3 325.8L2322.0 342.8L2322.7 326.0L2324.4 311.2L2326.7 326.5L2329.1 311.7L2330.7 326.9L2331.4 365.3L2332.1 327.0L2333.3 312.1L2335.1 330.0L2336.9 312.5L2338.0 327.6L2338.7 339.1L2339.4 327.7L2340.5 312.8L2342.3 325.8L2344.1 313.2L2345.2 328.3L2345.9 361.3L2346.6 328.4L2348.4 313.6L2350.8 331.7L2353.3 314.1L2355.0 329.3L2355.7 343.2L2356.4 329.4L2358.2 314.6L2360.6 333.1L2363.1 315.1L2364.9 330.3L2365.6 360.0L2366.3 330.5L2367.4 315.6L2369.3 334.5L2371.1 316.1L2372.3 331.2L2373.0 343.1L2373.7 331.5L2374.8 316.6L2376.7 334.3L2378.5 317.3L2379.7 332.4L2380.4 377.3" stroke="#00ffff"/>
<path d="M2316.0 268.8L2317.1 268.8L2318.1 269.0L2319.2 273.3L2320.2 269.2L2321.2 277.8L2322.3 269.5L2323.3 283.4L2324.4 269.7L2325.4 286.8L2326.5 269.9L2327.5 291.3L2328.6 270.1L2329.6 295.8L2330.7 270.3L2331.7 298.9L2332.8 270.5L2333.8 299.1L2334.9 270.7L2335.9 299.3L2337.0 270.9L2338.0 299.5L2339.1 271.1L2340.1 302.2L2341.2 271.3L2342.2 299.9L2343.3 271.5L2344.3 300.1L2345.4 271.7L2346.4 300.3L2347.5 271.9L2348.5 300.5L2349.6 272.1L2350.6 300.7L2351.7 272.3L2352.7 300.9L2353.8 272.5L2354.8 301.1L2355.9 272.7L2356.9 303.8L2358.0 272.9L2359.0 301.5L2360.1 273.1L2361.1 301.8L2362.2 273.2L2363.2 302.0L2364.3 273.4L2365.3 302.2L2366.4 273.6L2367.4 302.5L2368.5 273.8L2369.5 302.7L2370.6 274.0L2371.6 303.0L2372.7 274.2L2373.7 305.8L2374.8 274.3L2375.8 303.6L2376.9 274.5L2377.9 303.9L2379.0 274.7L2380.0 304.3L2381.1 274.9L2382.1 304.6L2383.2 275.1L2384.2 304.9L2385.3 275.2L2386.3 305.2L2387.4 275.4L2388.4 305.5L2389.5 275.6L2390.5 308.3" stroke="#0000ff"/>
<path d="M268.3 1400.0L269.0 749.5L270.0 717.1L271.8 747.3L273.5 717.5L274.6 747.7L275.3 840.5L276.0 747.2L277.0 716.4L278.8 741.3L280.5 713.6L281.5 745.3L282.2 910.8L282.9 744.7L284.7 712.1L287.1 742.8L289.5 711.7L291.2 741.5L291.9 856.6L292.6 741.0L294.3 709.8L296.7 739.0L299.1 706.3L300.8 737.6L301.5 996.1L302.2 737.0L303.4 704.5L305.2 735.1L307.1 704.5L308.2 734.5L308.9 829.1L309.6 733.9L310.8 702.9L312.7 729.8L314.5 699.8L315.7 731.3L316.4 920.1L317.1 730.7L318.7 697.9L321.1 725.5L323.5 697.3L325.1 727.0L325.8 850.4L326.5 726.4L328.2 695.1L330.5 721.5L332.9 691.4L334.6 722.6L335.3 928.6L336.0 722.0L337.2 689.4L339.2 714.3L341.1 689.0L342.4 718.9L343.1 809.6L343.8 718.3L345.0 687.2L346.9 717.1L348.9 683.8L350.1 715.2L350.8 941.6L351.5 714.5L353.1 681.7L355.4 710.5L357.7 680.9L359.2 710.6L359.9 828.2L360.6 709.9L362.2 678.6L364.5 704.6L366.7 674.7L368.3 705.8L369.0 880.1L369.7 705.1L371.0 672.4L372.9 701.3L374.8 671.7L376.1 701.4L376.8 796.1L377.5 700.6L378.7 669.4L380.7 698.1L382.6 665.6L383.9 696.8L384.6 1005.4L385.3 696.0L386.5 663.2L388.5 690.6L390.4 662.3L391.7 692.0L392.4 789.1L393.1 691.1L394.3 659.8L396.3 689.3L398.2 655.7L399.5 686.9L400.2 840.4L400.9 686.0L402.5 652.9L404.8 684.2L407.1 651.1L408.7 680.4L409.4 805.1L410.1 679.4L411.7 647.7L414.1 673.2L416.4 642.8L418.0 673.6L418.7 983.1L419.4 672.5L420.5 639.7L422.4 665.0L424.3 638.4L425.4 668.0L426.1 757.5L426.8 667.0L428.0 635.7L429.8 664.5L431.7 631.5L432.8 662.7L433.5 838.5L434.2 661.7L435.8 628.6L438.2 660.7L440.5 627.1L442.1 656.5L442.8 772.9L443.5 655.5L445.1 623.9L447.4 647.5L449.7 619.0L451.4 649.8L452.1 875.6L452.8 648.8L454.0 615.8L456.0 645.6L457.9 614.2L459.2 643.7L459.9 740.9L460.6 642.5L461.8 610.9L463.7 639.9L465.7 605.9L466.9 636.6L467.6 840.4L468.3 635.2L470.0 601.6L472.3 632.1L474.6 598.2L476.2 627.1L476.9 748.0L477.6 625.6L479.2 593.5L481.5 616.4L483.9 587.6L485.5 618.1L486.2 805.2L486.9 616.7L488.1 583.5L490.0 607.9L491.9 581.1L493.1 610.2L493.8 704.8L494.5 608.5L495.7 576.5L497.6 606.0L499.5 569.9L500.7 600.2L501.4 857.1L502.1 598.2L503.7 563.7L506.1 586.8L508.5 558.3L510.1 586.5L510.8 709.9L511.5 584.5L513.2 551.8L515.6 574.0L517.9 543.7L519.6 573.4L520.3 737.7L521.0 571.4L522.3 537.6L524.3 564.8L526.3 533.1L527.6 561.7L528.3 657.8L529.0 559.6L530.3 527.1L532.2 551.7L534.2 519.4L535.5 549.3L536.2 1122.0L536.9 546.9L538.1 512.9L539.9 541.2L541.8 507.6L542.9 535.8L543.6 627.8L544.3 533.0L545.5 500.2L547.4 521.9L549.2 490.7L550.4 520.0L551.1 682.8L551.8 516.7L553.4 480.7L555.7 507.7L558.0 469.6L559.6 495.0L560.3 604.8L561.0 490.4L562.7 454.4L565.0 472.4L567.3 437.1L568.9 463.2L569.6 719.1L570.3 457.7L571.6 420.3L573.6 442.3L575.5 401.4L576.8 424.9L577.5 520.4L578.2 417.4L579.5 380.5L581.5 395.9L583.4 360.3L584.7 385.5L585.4 551.6L590.1 236.0L591.9 158.7L594.0 138.4L598.2 144.4L600.1 151.8L602.0 144.7L603.9 151.4L605.8 144.9L607.6 151.1L609.5 145.2L611.4 150.8L613.3 145.4L615.2 150.5L617.1 145.6L619.0 150.2L620.9 145.7L622.8 150.0L624.6 145.9L626.5 149.7L628.4 146.0L630.3 149.5L632.2 146.0L634.1 149.4L636.0 146.1L637.9 149.2L639.7 146.1L641.6 149.1L643.5 146.2L645.4 149.0L647.3 146.1L649.2 148.9L651.1 146.1L653.0 148.9L654.9 146.1L656.7 149.0L658.6 146.2L660.5 149.1L662.4 146.1L664.3 149.2L666.2 146.1L668.1 149.4L670.0 146.0L671.9 149.5L673.7 146.0L675.6 149.7L677.5 145.9L679.4 150.0L681.3 145.7L683.2 150.2L685.1 145.6L687.0 150.5L688.8 145.4L690.7 150.8L692.6 145.2L694.5 151.1L696.4 144.9L698.3 151.4L700.2 144.7L702.1 151.8L704.0 144.4L708.2 138.4L710.3 158.7L712.1 236.0L721.4 624.8L722.1 407.4L723.2 380.5L725.0 422.2L726.7 400.8L727.8 437.2L728.5 556.1L729.2 444.5L730.3 419.2L732.0 454.8L733.8 432.3L734.8 468.2L735.5 680.0L736.2 473.1L737.9 446.7L740.3 481.8L742.7 464.1L744.3 499.9L745.0 611.1L745.7 504.1L747.4 478.1L749.8 513.5L752.1 488.2L753.8 524.0L754.5 715.5L755.2 527.1L756.4 497.7L758.3 529.3L760.2 506.9L761.4 539.7L762.1 626.6L762.8 542.3L764.1 514.0L766.0 545.6L767.9 519.0L769.1 552.9L769.8 814.3L770.5 555.1L772.2 525.7L774.5 557.1L776.9 534.3L778.6 567.3L779.3 667.6L780.0 569.3L781.6 541.2L784.0 572.8L786.4 546.4L788.1 580.7L788.8 747.8L789.5 582.6L790.8 552.4L792.8 585.8L794.8 559.6L796.1 592.0L796.8 682.8L797.5 594.0L798.8 565.5L800.8 596.8L802.9 569.8L804.2 603.7L804.9 1124.0L805.6 605.6L806.6 574.9L808.4 605.9L810.2 580.7L811.2 612.3L811.9 694.9L812.6 613.8L813.7 584.4L815.5 616.6L817.2 586.3L818.3 619.4L819.0 784.0L819.7 620.7L821.3 590.3L823.7 625.1L826.1 596.4L827.8 628.7L828.5 713.9L829.2 630.1L830.8 601.4L833.2 629.4L835.6 604.7L837.2 638.4L837.9 894.9L838.6 639.7L839.7 608.7L841.6 637.0L843.4 613.3L844.5 644.7L845.2 727.7L845.9 645.8L847.0 616.2L848.8 642.6L850.6 617.5L851.7 650.4L852.4 839.7L853.1 651.4L854.8 620.6L857.2 655.8L859.5 625.5L861.2 657.1L861.9 751.1L862.6 658.0L864.3 628.6L866.6 661.8L869.0 630.3L870.7 663.5L871.4 871.9L872.1 664.3L873.3 632.7L875.2 660.1L877.1 633.5L878.3 663.1L879.0 742.9L879.7 662.1L881.0 630.8L882.9 661.4L884.8 626.8L886.0 658.0L886.7 884.0L887.4 657.0L889.1 623.9L891.4 649.5L893.8 622.0L895.5 651.3L896.2 736.9L896.9 650.3L898.5 618.5L900.9 644.9L903.3 613.3L904.9 644.0L905.6 817.1L906.3 642.8L907.6 609.7L909.5 637.6L911.4 607.8L912.6 637.1L913.3 711.3L914.0 635.7L915.2 603.9L917.1 633.4L919.0 598.5L920.3 629.2L921.0 937.2L921.7 627.7L922.9 594.4L924.9 618.4L926.9 592.1L928.1 621.3L928.8 697.2L929.5 620.0L930.8 588.3L932.7 613.1L934.7 583.0L936.0 613.7L936.7 765.9L937.4 612.2L938.9 578.5L941.2 606.2L943.5 574.3L945.0 602.7L945.7 694.6L946.4 600.7L948.0 567.9L950.3 589.2L952.5 559.7L954.1 589.5L954.8 900.1L955.5 587.5L956.7 553.8L958.6 578.6L960.6 550.0L961.8 578.9L962.5 660.4L963.2 576.9L964.4 544.7L966.3 569.9L968.2 537.8L969.4 568.0L970.1 744.5L970.8 565.9L972.4 531.5L974.8 560.7L977.1 526.0L978.7 554.0L979.4 654.2L980.1 551.8L981.7 518.6L984.0 544.9L986.4 509.0L988.0 537.9L988.7 763.1L989.4 535.2L990.6 500.7L992.6 528.8L994.6 493.8L995.8 521.5L996.5 612.0L997.2 518.2L998.5 484.7L1000.5 509.9L1002.4 473.1L1003.7 501.4L1004.4 705.4L1005.1 497.1L1006.8 459.5L1009.2 482.6L1011.6 444.7L1013.4 469.2L1014.1 588.7L1014.8 464.1L1016.5 426.9L1018.9 446.8L1021.3 401.6L1023.0 424.2L1023.7 612.7L1036.2 236.0L1038.0 158.7L1040.1 138.4L1044.3 144.4L1046.2 151.8L1048.1 144.7L1050.0 151.4L1051.9 144.9L1053.7 151.1L1055.6 145.2L1057.5 150.8L1059.4 145.4L1061.3 150.5L1063.2 145.6L1065.1 150.2L1067.0 145.7L1068.9 150.0L1070.7 145.9L1072.6 149.7L1074.5 146.0L1076.4 149.5L1078.3 146.0L1080.2 149.4L1082.1 146.1L1084.0 149.2L1085.8 146.1L1087.7 149.1L1089.6 146.2L1091.5 149.0L1093.4 146.1L1095.3 148.9L1097.2 146.1L1099.1 148.9L1101.0 146.1L1102.8 149.0L1104.7 146.2L1106.6 149.1L1108.5 146.1L1110.4 149.2L1112.3 146.1L1114.2 149.4L1116.1 146.0L1118.0 149.5L1119.8 146.0L1121.7 149.7L1123.6 145.9L1125.5 150.0L1127.4 145.7L1129.3 150.2L1131.2 145.6L1133.1 150.5L1134.9 145.4L1136.8 150.8L1138.7 145.2L1140.6 151.1L1142.5 144.9L1144.4 151.4L1146.3 144.7L1148.2 151.8L1150.1 144.4L1154.3 138.4L1156.4 158.7L1158.2 236.0L1174.6 617.5L1175.3 444.4L1176.5 418.3L1178.4 457.7L1180.3 435.3L1181.5 470.2L1182.2 587.7L1182.9 475.0L1184.1 448.6L1186.0 484.3L1188.0 460.0L1189.2 496.0L1189.9 868.9L1190.6 500.4L1192.1 473.0L1194.4 512.2L1196.7 486.1L1198.3 520.3L1199.0 633.9L1199.7 523.5L1201.3 496.5L1203.5 528.9L1205.8 504.3L1207.4 539.4L1208.1 697.1L1208.8 542.0L1210.1 512.3L1212.0 544.6L1214.0 520.5L1215.2 553.0L1215.9 640.4L1216.6 555.2L1217.9 526.6L1219.9 559.2L1221.8 531.1L1223.1 564.9L1223.8 847.9L1224.5 567.0L1225.6 536.7L1227.5 571.6L1229.3 543.5L1230.4 575.5L1231.1 660.9L1231.8 577.5L1233.0 548.5L1234.8 577.8L1236.6 552.1L1237.8 585.7L1238.5 765.2L1239.2 587.6L1240.9 558.1L1243.3 592.6L1245.8 566.7L1247.5 599.8L1248.2 701.7L1248.9 601.8L1250.6 573.7L1253.1 602.6L1255.5 578.3L1257.3 612.2L1258.0 868.9L1258.7 613.7L1259.8 582.9L1261.7 614.8L1263.6 588.1L1264.8 619.8L1265.5 696.4L1266.2 621.1L1267.4 591.7L1269.3 623.8L1271.2 593.9L1272.3 627.1L1273.0 910.8L1273.7 628.6L1275.4 598.3L1277.8 626.9L1280.1 604.7L1281.8 636.8L1282.5 732.0L1283.2 638.2L1284.8 609.3L1287.2 641.3L1289.5 611.9L1291.2 645.2L1291.9 889.8L1292.6 646.3L1293.7 615.2L1295.6 642.4L1297.4 619.5L1298.5 650.9L1299.2 728.8L1299.9 651.9L1301.1 622.2L1302.9 655.3L1304.7 623.4L1305.9 656.1L1306.6 931.7L1307.3 657.1L1308.5 625.9L1310.5 656.6L1312.5 630.0L1313.7 661.4L1314.4 735.3L1315.1 662.3L1316.4 632.7L1318.3 661.3L1320.3 632.7L1321.6 664.6L1322.3 900.3L1323.0 664.1L1324.6 631.0L1327.0 660.7L1329.3 629.3L1331.0 658.7L1331.7 752.2L1332.4 657.8L1334.1 626.1L1336.4 652.8L1338.8 621.4L1340.4 652.2L1341.1 1104.7L1341.8 651.1L1343.0 618.3L1344.8 648.3L1346.6 617.0L1347.8 646.6L1348.5 718.2L1349.2 645.5L1350.3 614.1L1352.1 637.3L1354.0 609.5L1355.1 640.5L1355.8 801.8L1356.5 639.2L1358.3 605.5L1360.8 633.1L1363.3 601.9L1365.0 630.6L1365.7 719.6L1366.4 629.1L1368.2 596.7L1370.7 622.8L1373.2 590.3L1375.0 620.6L1375.7 868.9L1376.4 619.3L1377.5 586.3L1379.3 617.6L1381.0 584.3L1382.1 613.6L1382.8 690.2L1383.5 612.2L1384.6 580.5L1386.4 602.8L1388.2 574.7L1389.2 605.3L1389.9 793.4L1390.6 603.4L1392.4 568.9L1394.8 594.7L1397.2 563.4L1398.9 591.4L1399.6 696.3L1400.3 589.4L1402.0 556.5L1404.4 582.3L1406.8 548.3L1408.5 578.0L1409.2 786.1L1409.9 576.0L1411.1 542.4L1412.9 569.8L1414.7 538.7L1415.9 567.5L1416.6 655.7L1417.3 565.5L1418.4 533.3L1420.2 555.2L1422.1 526.3L1423.2 556.5L1423.9 784.0L1424.6 554.3L1426.2 519.7L1428.6 546.2L1431.0 513.2L1432.6 540.7L1433.3 643.8L1434.0 538.0L1435.7 504.3L1438.0 525.4L1440.4 493.0L1442.0 521.2L1442.7 695.0L1443.4 518.0L1444.7 482.9L1446.7 505.1L1448.6 474.2L1449.9 501.1L1450.6 598.4L1451.3 496.7L1452.6 462.1L1454.5 486.7L1456.5 447.4L1457.8 475.1L1458.5 785.1L1459.2 470.3L1460.4 434.0L1462.3 453.9L1464.2 420.0L1465.4 444.5L1466.1 559.4L1466.8 437.1L1468.0 400.0L1469.9 417.4L1471.8 378.5L1473.0 404.8L1473.7 554.6L1482.2 236.0L1484.1 158.7L1486.2 138.4L1490.4 144.4L1492.3 151.8L1494.2 144.7L1496.1 151.4L1498.0 144.9L1499.8 151.1L1501.7 145.2L1503.6 150.8L1505.5 145.4L1507.4 150.5L1509.3 145.6L1511.2 150.2L1513.1 145.7L1515.0 150.0L1516.8 145.9L1518.7 149.7L1520.6 146.0L1522.5 149.5L1524.4 146.0L1526.3 149.4L1528.2 146.1L1530.1 149.2L1531.9 146.1L1533.8 149.1L1535.7 146.2L1537.6 149.0L1539.5 146.1L1541.4 148.9L1543.3 146.1L1545.2 148.9L1547.1 146.1L1548.9 149.0L1550.8 146.2L1552.7 149.1L1554.6 146.1L1556.5 149.2L1558.4 146.1L1560.3 149.4L1562.2 146.0L1564.1 149.5L1565.9 146.0L1567.8 149.7L1569.7 145.9L1571.6 150.0L1573.5 145.7L1575.4 150.2L1577.3 145.6L1579.2 150.5L1581.0 145.4L1582.9 150.8L1584.8 145.2L1586.7 151.1L1588.6 144.9L1590.5 151.4L1592.4 144.7L1594.3 151.8L1596.2 144.4L1600.4 138.4L1602.5 158.7L1604.3 236.0L1609.5 1017.6L1610.2 387.3L1611.4 361.4L1613.3 399.0L1615.1 380.7L1616.3 417.2L1617.0 545.8L1617.7 424.7L1618.9 400.8L1620.8 441.8L1622.7 418.8L1623.9 455.9L1624.6 625.8L1625.3 461.6L1627.0 436.0L1629.4 476.3L1631.9 454.2L1633.6 490.5L1634.3 613.5L1635.0 495.2L1636.7 470.1L1639.2 504.7L1641.6 481.7L1643.4 517.9L1644.1 777.7L1644.8 521.2L1645.9 491.8L1647.7 527.1L1649.6 501.1L1650.7 533.9L1651.4 626.0L1652.1 536.7L1653.2 508.4L1655.1 536.2L1656.9 513.6L1658.0 547.5L1658.7 739.0L1659.4 549.9L1661.0 520.4L1663.3 552.7L1665.6 529.0L1667.1 561.8L1667.8 668.3L1668.5 563.9L1670.1 535.8L1672.4 570.1L1674.7 540.9L1676.2 575.1L1676.9 786.1L1677.6 577.1L1678.9 546.8L1680.9 579.8L1682.8 553.7L1684.1 586.0L1684.8 674.4L1685.5 587.9L1686.8 559.2L1688.7 590.6L1690.7 563.5L1692.0 597.3L1692.7 868.9L1693.4 599.4L1695.0 569.7L1697.3 603.8L1699.6 577.4L1701.2 609.8L1701.9 707.9L1702.6 611.4L1704.2 582.6L1706.5 614.5L1708.8 585.7L1710.4 619.3L1711.1 796.6L1711.8 620.6L1713.1 589.8L1715.1 622.1L1717.1 595.3L1718.5 627.1L1719.2 708.7L1719.9 628.6L1721.2 599.5L1723.2 629.0L1725.2 602.2L1726.5 635.5L1727.2 910.8L1727.9 636.9L1729.3 606.3L1731.4 635.3L1733.5 611.6L1734.9 643.2L1735.6 735.5L1736.3 644.4L1737.7 615.0L1739.8 643.1L1741.9 616.8L1743.3 649.9L1744.0 889.8L1744.7 650.9L1746.1 619.9L1748.2 649.4L1750.3 624.5L1751.7 655.9L1752.4 747.1L1753.1 656.9L1754.5 627.3L1756.6 656.2L1758.7 628.6L1760.1 661.5L1760.8 931.7L1761.5 662.5L1762.6 631.3L1764.4 666.0L1766.3 634.3L1767.4 664.6L1768.1 738.7L1768.8 664.2L1769.9 633.1L1771.8 658.7L1773.6 629.0L1774.7 660.3L1775.4 900.3L1776.1 659.3L1777.8 626.2L1780.1 653.8L1782.5 624.6L1784.1 653.9L1784.8 743.0L1785.5 652.9L1787.2 621.2L1789.6 646.5L1791.9 616.1L1793.6 646.8L1794.3 952.7L1795.0 645.7L1796.2 612.7L1798.2 641.3L1800.2 610.9L1801.4 640.3L1802.1 714.6L1802.8 639.0L1804.1 607.3L1806.1 637.0L1808.0 601.8L1809.3 632.5L1810.0 868.9L1810.7 631.0L1812.3 597.3L1814.7 627.6L1817.1 594.0L1818.7 622.9L1819.4 717.3L1820.1 621.5L1821.8 589.5L1824.1 614.3L1826.5 583.4L1828.1 613.7L1828.8 801.8L1829.5 612.2L1830.7 579.0L1832.5 604.6L1834.3 576.1L1835.5 605.1L1836.2 686.6L1836.9 603.2L1838.0 571.1L1839.8 599.6L1841.7 564.3L1842.8 594.6L1843.5 889.8L1844.2 592.5L1845.9 558.1L1848.2 584.3L1850.6 553.0L1852.2 581.2L1852.9 680.9L1853.6 579.3L1855.3 546.5L1857.7 572.8L1860.0 538.4L1861.7 568.0L1862.4 732.7L1863.1 565.9L1864.3 532.0L1866.3 555.2L1868.3 527.6L1869.5 556.2L1870.2 646.5L1870.9 554.0L1872.2 521.5L1874.2 549.3L1876.1 513.4L1877.4 543.1L1878.1 1104.7L1878.8 540.6L1880.0 506.3L1881.8 530.7L1883.7 500.3L1884.9 528.3L1885.6 620.7L1886.3 525.3L1887.5 492.2L1889.4 515.9L1891.3 481.7L1892.5 510.8L1893.2 674.0L1893.9 507.1L1895.5 470.7L1897.8 490.7L1900.1 457.4L1901.7 482.5L1902.4 601.4L1903.1 477.7L1904.7 441.8L1907.0 461.0L1909.3 422.9L1910.9 447.4L1911.6 703.4L1912.3 440.2L1913.6 401.4L1915.5 423.0L1917.5 382.1L1918.7 406.7L1919.4 529.8L1920.1 400.1L1921.4 363.7L1923.3 384.0L1925.3 337.8L1926.5 335.4L1927.2 486.6L1928.4 236.0L1930.2 158.7L1932.3 138.4L1936.5 144.4L1938.4 151.8L1940.3 144.7L1942.2 151.4L1944.1 144.9L1945.9 151.1L1947.8 145.2L1949.7 150.8L1951.6 145.4L1953.5 150.5L1955.4 145.6L1957.3 150.2L1959.2 145.7L1961.1 150.0L1962.9 145.9L1964.8 149.7L1966.7 146.0L1968.6 149.5L1970.5 146.0L1972.4 149.4L1974.3 146.1L1976.2 149.2L1978.0 146.1L1979.9 149.1L1981.8 146.2L1983.7 149.0L1985.6 146.1L1987.5 148.9L1989.4 146.1L1991.3 148.9L1993.2 146.1L1995.0 149.0L1996.9 146.2L1998.8 149.1L2000.7 146.1L2002.6 149.2L2004.5 146.1L2006.4 149.4L2008.3 146.0L2010.2 149.5L2012.0 146.0L2013.9 149.7L2015.8 145.9L2017.7 150.0L2019.6 145.7L2021.5 150.2L2023.4 145.6L2025.3 150.5L2027.1 145.4L2029.0 150.8L2030.9 145.2L2032.8 151.1L2034.7 144.9L2036.6 151.4L2038.5 144.7L2040.4 151.8L2042.3 144.4L2046.5 138.4L2048.6 158.7L2050.5 236.0L2062.6 651.3L2063.3 422.0L2064.6 396.8L2066.5 435.1L2068.5 418.8L2069.7 454.9L2070.4 547.3L2071.1 460.6L2072.4 434.8L2074.3 469.7L2076.3 446.9L2077.5 483.1L2078.2 693.2L2078.9 487.8L2080.5 461.2L2082.8 498.4L2085.2 476.7L2086.8 511.4L2087.5 629.0L2088.2 514.9L2089.8 488.2L2092.1 522.7L2094.4 497.1L2096.0 532.4L2096.7 724.3L2097.4 535.2L2098.7 505.7L2100.6 536.6L2102.6 514.4L2103.8 547.0L2104.5 638.8L2105.2 549.4L2106.5 520.9L2108.4 555.8L2110.4 525.5L2111.6 559.4L2112.3 820.0L2113.0 561.5L2114.6 531.9L2116.9 563.3L2119.3 540.3L2120.9 573.1L2121.6 691.1L2122.3 575.0L2123.9 546.8L2126.2 576.5L2128.5 551.7L2130.2 585.9L2130.9 754.0L2131.6 587.9L2132.8 557.6L2134.7 588.0L2136.6 564.6L2137.8 596.9L2138.5 690.7L2139.2 598.9L2140.4 570.2L2142.3 597.5L2144.2 573.9L2145.4 607.5L2146.1 1122.0L2146.8 609.2L2148.0 578.6L2149.9 609.8L2151.9 584.3L2153.1 616.0L2153.8 707.2L2154.5 617.4L2155.8 588.1L2157.7 620.2L2159.7 590.3L2160.9 623.5L2161.6 787.4L2162.3 624.9L2163.9 594.5L2166.3 628.2L2168.6 600.8L2170.2 633.0L2170.9 751.4L2171.6 634.5L2173.2 605.6L2175.5 633.5L2177.8 608.5L2179.5 641.9L2180.2 899.7L2180.9 643.1L2182.1 612.2L2184.1 640.4L2186.0 616.8L2187.3 648.3L2188.0 745.9L2188.7 649.3L2189.9 619.8L2191.8 647.9L2193.8 621.1L2195.0 654.0L2195.7 843.4L2196.4 655.0L2198.0 624.1L2200.3 657.4L2202.6 628.6L2204.1 660.2L2204.8 784.8L2205.5 661.1L2207.1 631.7L2209.4 661.3L2211.6 633.4L2213.2 666.5L2213.9 874.9L2214.6 667.5L2215.9 636.5L2217.8 670.9L2219.7 640.9L2221.0 672.3L2221.7 762.0L2222.4 673.3L2223.6 643.8L2225.6 674.6L2227.5 645.2L2228.8 678.1L2229.5 907.1L2230.2 679.1L2231.8 648.3L2234.1 680.6L2236.4 653.1L2238.1 684.8L2238.8 808.6L2239.5 685.7L2241.1 656.3L2243.4 688.1L2245.7 657.8L2247.3 690.9L2248.0 867.5L2248.7 691.8L2249.9 660.5L2251.7 693.3L2253.6 664.3L2254.7 695.5L2255.4 794.5L2256.1 696.4L2257.3 666.6L2259.1 694.6L2261.0 667.3L2262.2 700.0L2262.9 1009.1L2263.6 700.8L2265.3 669.8L2267.7 698.9L2270.1 674.1L2271.8 705.5L2272.5 826.0L2273.2 706.3L2274.9 676.7L2277.3 705.6L2279.7 677.7L2281.4 710.6L2282.1 864.5L2282.8 711.3L2284.0 679.9L2285.8 710.4L2287.7 683.3L2288.8 714.3L2289.5 804.3L2290.2 715.0L2291.4 685.1L2293.3 711.2L2295.1 685.4L2296.3 717.9L2297.0 1029.5L2297.7 718.6L2298.9 687.2L2300.9 717.3L2302.8 690.6L2304.0 721.6L2304.7 818.9L2305.4 722.3L2306.7 692.4L2308.6 722.5L2310.6 692.7L2311.8 725.3L2312.5 901.6L2313.2 726.0L2314.9 694.7L2317.3 722.5L2319.6 698.4L2321.3 729.6L2322.0 847.6L2322.7 730.3L2324.4 700.5L2326.7 726.8L2329.1 701.1L2330.7 733.8L2331.4 962.7L2332.1 734.4L2333.3 702.8L2335.1 730.6L2336.9 705.8L2338.0 736.8L2338.7 833.5L2339.4 737.4L2340.5 707.3L2342.3 734.5L2344.1 707.3L2345.2 739.8L2345.9 947.9L2346.6 740.4L2348.4 709.1L2350.8 743.4L2353.3 712.5L2355.0 743.7L2355.7 863.1L2356.4 744.2L2358.2 714.4L2360.6 739.6L2363.1 714.7L2364.9 747.3L2365.6 939.4L2366.3 747.7L2367.4 716.1L2369.3 743.8L2371.1 718.8L2372.3 749.6L2373.0 846.1L2373.7 750.0L2374.8 719.9L2376.7 745.8L2378.5 719.4L2379.7 751.8L2380.4 1012.8M587.8 300L583.3 360.9L581.3 370.5L579.3 379.9L577.3 390.2L575.3 401.2L573.3 411.9L571.3 421.5L569.3 429.7L567.3 437.1M714.4 300L718.9 360.0L720.9 369.6L722.9 379.0L724.9 389.3L726.9 400.3L728.9 411.0L730.9 420.6L732.9 428.9L734.9 436.4M1033.9 300L1029.4 360.9L1027.4 370.5L1025.4 379.9L1023.4 390.2L1021.4 401.2L1019.4 411.9L1017.4 421.5L1015.4 429.7L1013.4 437.1M1160.5 300L1165.0 360.0L1167.0 369.6L1169.0 379.0L1171.0 389.3L1173.0 400.3L1175.0 411.0L1177.0 420.6L1179.0 428.9L1181.0 436.4M1480.0 300L1475.5 360.9L1473.5 370.5L1471.5 379.9L1469.5 390.2L1467.5 401.2L1465.5 411.9L1463.5 421.5L1461.5 429.7L1459.5 437.1M1606.6 300L1611.1 360.0L1613.1 369.6L1615.1 379.0L1617.1 389.3L1619.1 400.3L1621.1 411.0L1623.1 420.6L1625.1 428.9L1627.1 436.4M1926.1 300L1921.6 360.9L1919.6 370.5L1917.6 379.9L1915.6 390.2L1913.6 401.2L1911.6 411.9L1909.6 421.5L1907.6 429.7L1905.6 437.1M2052.7 300L2057.2 360.0L2059.2 369.6L2061.2 379.0L2063.2 389.3L2065.2 400.3L2067.2 411.0L2069.2 420.6L2071.2 428.9L2073.2 436.4" stroke="#ff0000"/>
</g>
<g font-family="'Liberation Sans', Arial, sans-serif" fill="#000">
<text transform="translate(393.68 193.80) scale(1.2259 1)" font-size="45.51">I</text>
<text transform="translate(642.60 196.00) scale(0.9989 1)" font-size="45.65">II</text>
<text transform="translate(847.16 196.00) scale(1.0312 1)" font-size="45.65">III</text>
<text transform="translate(1075.48 196.00) scale(1.0514 1)" font-size="45.65">IV</text>
<text transform="translate(1288.74 196.00) scale(1.1471 1)" font-size="45.65">V</text>
<text transform="translate(1529.42 196.00) scale(1.2365 1)" font-size="45.65">VI</text>
<text transform="translate(1775.74 196.00) scale(1.1352 1)" font-size="45.65">VII</text>
<text transform="translate(1957.66 196.00) scale(1.0617 1)" font-size="45.65">VIII</text>
<text transform="translate(2224.17 196.00) scale(1.1018 1)" font-size="45.65">IX</text>
<text transform="translate(222.45 163.47) scale(1.2637 1)" font-size="42.54">0</text>
<text transform="translate(174.39 350.68) scale(1.2236 1)" font-size="41.97">-50</text>
<text transform="translate(144.17 538.38) scale(1.2406 1)" font-size="41.69">-100</text>
<text transform="translate(144.17 726.17) scale(1.2159 1)" font-size="42.54">-150</text>
<text transform="translate(144.17 913.97) scale(1.2000 1)" font-size="43.10">-200</text>
<text transform="translate(144.17 1101.17) scale(1.2159 1)" font-size="42.54">-250</text>
<text transform="translate(252.13 1137.56) scale(1.2414 1)" font-size="43.80">0</text>
<text transform="translate(602.16 1137.56) scale(1.1686 1)" font-size="43.80">100</text>
<text transform="translate(977.14 1137.56) scale(1.2166 1)" font-size="43.80">200</text>
<text transform="translate(1357.15 1137.56) scale(1.1716 1)" font-size="43.80">300</text>
<text transform="translate(1734.25 1137.56) scale(1.1954 1)" font-size="43.80">400</text>
<text transform="translate(2112.63 1137.56) scale(1.1788 1)" font-size="43.80">500</text>
<text transform="translate(1005.02 1192.00) scale(1.1767 1)" font-size="44.43">Normalized frequency (Hz)</text>
<text transform="translate(109 954.2) rotate(-90) translate(-3.44 0) scale(0.8015 1)" font-size="53.60">Normalized power spectral density (dB)</text>
</g>
<rect x="1042" y="811.6" width="932.8" height="208.8" fill="#fff" stroke="#000" stroke-width="2.6"/>
<g stroke-width="8.6" stroke-linecap="butt">
<path d="M1064.8 842.6L1178.7 841.4" stroke="#0000ff"/>
<path d="M1063 889.6H1176" stroke="#ff00ff"/>
<path d="M1063 936.3H1176" stroke="#00ffff"/>
<path d="M1059 981.6L1172.7 980" stroke="#ff0000"/>
</g>
<g font-family="'Liberation Sans', Arial, sans-serif" fill="#000">
<text transform="translate(1209.48 853.90) scale(1.1915 1)" font-size="43.30">Orgininal</text>
<text transform="translate(1213.20 900.70) scale(1.2030 1)" font-size="43.30">2 Advance Cancellation carriers</text>
<text transform="translate(1212.60 945.50) scale(1.1924 1)" font-size="43.44">Advance subcarriers weighting</text>
<text transform="translate(1209.58 991.80) scale(1.2494 1)" font-size="42.17">Proposed Technique</text>
</g>
</svg></body></html>
